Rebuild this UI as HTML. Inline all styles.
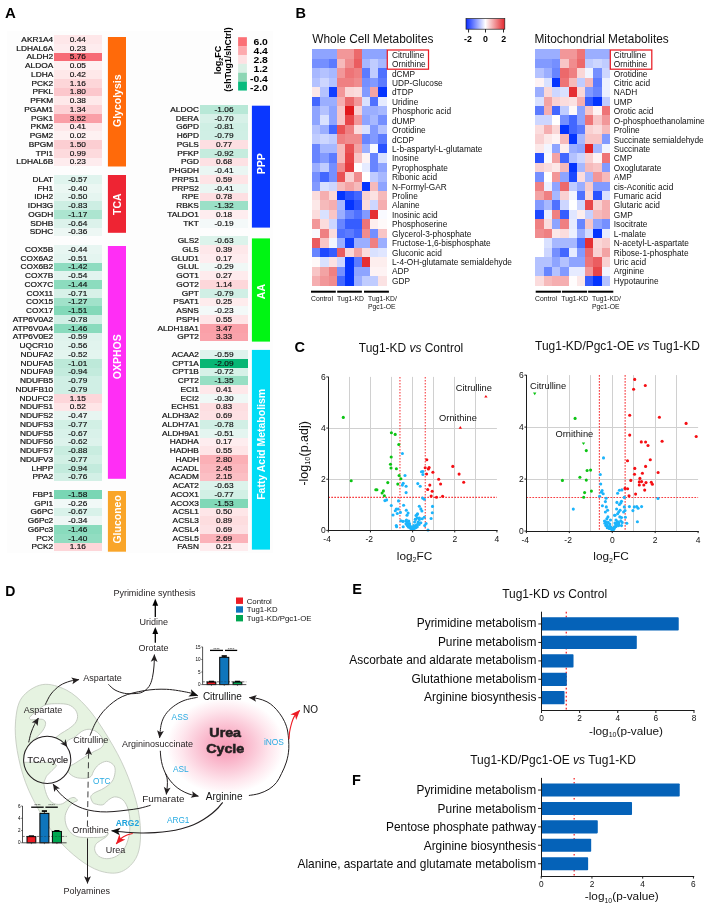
<!DOCTYPE html>
<html lang="en">
<head>
<meta charset="utf-8">
<title>Figure</title>
<style>
html,body{margin:0;padding:0;background:#fff;}
body{width:721px;height:910px;overflow:hidden;font-family:"Liberation Sans", Arial, sans-serif;}
svg{display:block;font-family:"Liberation Sans", Arial, sans-serif;will-change:transform;}
</style>
</head>
<body>
<svg width="721" height="910" viewBox="0 0 721 910">
<rect x="0" y="0" width="721" height="910" fill="#ffffff"/>
<g id="panelA">
<text x="5" y="18.2"  font-size="15" font-weight="bold" fill="#000" >A</text>
<rect x="7" y="31" width="266" height="522" fill="#fdfdfd"/>
<rect shape-rendering="crispEdges" x="54.1" y="35.1" width="47.4" height="8.8" fill="#fee7e9"/>
<text  transform="translate(53.2 41.88) scale(1.17 1)" font-size="7.1" text-anchor="end" fill="#111" stroke="#111" stroke-width="0.2">AKR1A4</text>
<text  transform="translate(77.8 41.88) scale(1.17 1)" font-size="7.1" text-anchor="middle" fill="#111" stroke="#111" stroke-width="0.16">0.44</text>
<rect shape-rendering="crispEdges" x="54.1" y="43.85" width="47.4" height="8.8" fill="#feecee"/>
<text  transform="translate(53.2 50.62) scale(1.17 1)" font-size="7.1" text-anchor="end" fill="#111" stroke="#111" stroke-width="0.2">LDHAL6A</text>
<text  transform="translate(77.8 50.62) scale(1.17 1)" font-size="7.1" text-anchor="middle" fill="#111" stroke="#111" stroke-width="0.16">0.23</text>
<rect shape-rendering="crispEdges" x="54.1" y="52.6" width="47.4" height="8.8" fill="#f76b76"/>
<text  transform="translate(53.2 59.38) scale(1.17 1)" font-size="7.1" text-anchor="end" fill="#111" stroke="#111" stroke-width="0.2">ALDH2</text>
<text  transform="translate(77.8 59.38) scale(1.17 1)" font-size="7.1" text-anchor="middle" fill="#111" stroke="#111" stroke-width="0.16">5.76</text>
<rect shape-rendering="crispEdges" x="54.1" y="61.35" width="47.4" height="8.8" fill="#fef0f1"/>
<text  transform="translate(53.2 68.12) scale(1.17 1)" font-size="7.1" text-anchor="end" fill="#111" stroke="#111" stroke-width="0.2">ALDOA</text>
<text  transform="translate(77.8 68.12) scale(1.17 1)" font-size="7.1" text-anchor="middle" fill="#111" stroke="#111" stroke-width="0.16">0.05</text>
<rect shape-rendering="crispEdges" x="54.1" y="70.1" width="47.4" height="8.8" fill="#fee8e9"/>
<text  transform="translate(53.2 76.88) scale(1.17 1)" font-size="7.1" text-anchor="end" fill="#111" stroke="#111" stroke-width="0.2">LDHA</text>
<text  transform="translate(77.8 76.88) scale(1.17 1)" font-size="7.1" text-anchor="middle" fill="#111" stroke="#111" stroke-width="0.16">0.42</text>
<rect shape-rendering="crispEdges" x="54.1" y="78.85" width="47.4" height="8.8" fill="#fdd6d9"/>
<text  transform="translate(53.2 85.62) scale(1.17 1)" font-size="7.1" text-anchor="end" fill="#111" stroke="#111" stroke-width="0.2">PCK2</text>
<text  transform="translate(77.8 85.62) scale(1.17 1)" font-size="7.1" text-anchor="middle" fill="#111" stroke="#111" stroke-width="0.16">1.16</text>
<rect shape-rendering="crispEdges" x="54.1" y="87.6" width="47.4" height="8.8" fill="#fcc7cc"/>
<text  transform="translate(53.2 94.38) scale(1.17 1)" font-size="7.1" text-anchor="end" fill="#111" stroke="#111" stroke-width="0.2">PFKL</text>
<text  transform="translate(77.8 94.38) scale(1.17 1)" font-size="7.1" text-anchor="middle" fill="#111" stroke="#111" stroke-width="0.16">1.80</text>
<rect shape-rendering="crispEdges" x="54.1" y="96.35" width="47.4" height="8.8" fill="#fee9ea"/>
<text  transform="translate(53.2 103.12) scale(1.17 1)" font-size="7.1" text-anchor="end" fill="#111" stroke="#111" stroke-width="0.2">PFKM</text>
<text  transform="translate(77.8 103.12) scale(1.17 1)" font-size="7.1" text-anchor="middle" fill="#111" stroke="#111" stroke-width="0.16">0.38</text>
<rect shape-rendering="crispEdges" x="54.1" y="105.1" width="47.4" height="8.8" fill="#fdd2d6"/>
<text  transform="translate(53.2 111.88) scale(1.17 1)" font-size="7.1" text-anchor="end" fill="#111" stroke="#111" stroke-width="0.2">PGAM1</text>
<text  transform="translate(77.8 111.88) scale(1.17 1)" font-size="7.1" text-anchor="middle" fill="#111" stroke="#111" stroke-width="0.16">1.34</text>
<rect shape-rendering="crispEdges" x="54.1" y="113.85" width="47.4" height="8.8" fill="#fa9fa7"/>
<text  transform="translate(53.2 120.62) scale(1.17 1)" font-size="7.1" text-anchor="end" fill="#111" stroke="#111" stroke-width="0.2">PGK1</text>
<text  transform="translate(77.8 120.62) scale(1.17 1)" font-size="7.1" text-anchor="middle" fill="#111" stroke="#111" stroke-width="0.16">3.52</text>
<rect shape-rendering="crispEdges" x="54.1" y="122.6" width="47.4" height="8.8" fill="#fee8ea"/>
<text  transform="translate(53.2 129.38) scale(1.17 1)" font-size="7.1" text-anchor="end" fill="#111" stroke="#111" stroke-width="0.2">PKM2</text>
<text  transform="translate(77.8 129.38) scale(1.17 1)" font-size="7.1" text-anchor="middle" fill="#111" stroke="#111" stroke-width="0.16">0.41</text>
<rect shape-rendering="crispEdges" x="54.1" y="131.35" width="47.4" height="8.8" fill="#fef1f2"/>
<text  transform="translate(53.2 138.12) scale(1.17 1)" font-size="7.1" text-anchor="end" fill="#111" stroke="#111" stroke-width="0.2">PGM2</text>
<text  transform="translate(77.8 138.12) scale(1.17 1)" font-size="7.1" text-anchor="middle" fill="#111" stroke="#111" stroke-width="0.16">0.02</text>
<rect shape-rendering="crispEdges" x="54.1" y="140.1" width="47.4" height="8.8" fill="#fcced2"/>
<text  transform="translate(53.2 146.88) scale(1.17 1)" font-size="7.1" text-anchor="end" fill="#111" stroke="#111" stroke-width="0.2">BPGM</text>
<text  transform="translate(77.8 146.88) scale(1.17 1)" font-size="7.1" text-anchor="middle" fill="#111" stroke="#111" stroke-width="0.16">1.50</text>
<rect shape-rendering="crispEdges" x="54.1" y="148.85" width="47.4" height="8.8" fill="#fddadd"/>
<text  transform="translate(53.2 155.62) scale(1.17 1)" font-size="7.1" text-anchor="end" fill="#111" stroke="#111" stroke-width="0.2">TPI1</text>
<text  transform="translate(77.8 155.62) scale(1.17 1)" font-size="7.1" text-anchor="middle" fill="#111" stroke="#111" stroke-width="0.16">0.99</text>
<rect shape-rendering="crispEdges" x="54.1" y="157.6" width="47.4" height="8.8" fill="#feecee"/>
<text  transform="translate(53.2 164.38) scale(1.17 1)" font-size="7.1" text-anchor="end" fill="#111" stroke="#111" stroke-width="0.2">LDHAL6B</text>
<text  transform="translate(77.8 164.38) scale(1.17 1)" font-size="7.1" text-anchor="middle" fill="#111" stroke="#111" stroke-width="0.16">0.23</text>
<rect x="107.9" y="37" width="18.1" height="129.5" fill="#ff6a0a"/>
<text transform="translate(120.65 100.75) rotate(-90)" text-anchor="middle" font-size="10.5" font-weight="bold" fill="#fff">Glycolysis</text>
<rect shape-rendering="crispEdges" x="54.1" y="175.1" width="47.4" height="8.8" fill="#e0f4ee"/>
<text  transform="translate(53.2 181.88) scale(1.17 1)" font-size="7.1" text-anchor="end" fill="#111" stroke="#111" stroke-width="0.2">DLAT</text>
<text  transform="translate(77.8 181.88) scale(1.17 1)" font-size="7.1" text-anchor="middle" fill="#111" stroke="#111" stroke-width="0.16">-0.57</text>
<rect shape-rendering="crispEdges" x="54.1" y="183.85" width="47.4" height="8.8" fill="#ebf7f3"/>
<text  transform="translate(53.2 190.62) scale(1.17 1)" font-size="7.1" text-anchor="end" fill="#111" stroke="#111" stroke-width="0.2">FH1</text>
<text  transform="translate(77.8 190.62) scale(1.17 1)" font-size="7.1" text-anchor="middle" fill="#111" stroke="#111" stroke-width="0.16">-0.40</text>
<rect shape-rendering="crispEdges" x="54.1" y="192.6" width="47.4" height="8.8" fill="#e5f5f0"/>
<text  transform="translate(53.2 199.38) scale(1.17 1)" font-size="7.1" text-anchor="end" fill="#111" stroke="#111" stroke-width="0.2">IDH2</text>
<text  transform="translate(77.8 199.38) scale(1.17 1)" font-size="7.1" text-anchor="middle" fill="#111" stroke="#111" stroke-width="0.16">-0.50</text>
<rect shape-rendering="crispEdges" x="54.1" y="201.35" width="47.4" height="8.8" fill="#cdeee3"/>
<text  transform="translate(53.2 208.12) scale(1.17 1)" font-size="7.1" text-anchor="end" fill="#111" stroke="#111" stroke-width="0.2">IDH3G</text>
<text  transform="translate(77.8 208.12) scale(1.17 1)" font-size="7.1" text-anchor="middle" fill="#111" stroke="#111" stroke-width="0.16">-0.83</text>
<rect shape-rendering="crispEdges" x="54.1" y="210.1" width="47.4" height="8.8" fill="#ace5d0"/>
<text  transform="translate(53.2 216.88) scale(1.17 1)" font-size="7.1" text-anchor="end" fill="#111" stroke="#111" stroke-width="0.2">OGDH</text>
<text  transform="translate(77.8 216.88) scale(1.17 1)" font-size="7.1" text-anchor="middle" fill="#111" stroke="#111" stroke-width="0.16">-1.17</text>
<rect shape-rendering="crispEdges" x="54.1" y="218.85" width="47.4" height="8.8" fill="#dcf2eb"/>
<text  transform="translate(53.2 225.62) scale(1.17 1)" font-size="7.1" text-anchor="end" fill="#111" stroke="#111" stroke-width="0.2">SDHB</text>
<text  transform="translate(77.8 225.62) scale(1.17 1)" font-size="7.1" text-anchor="middle" fill="#111" stroke="#111" stroke-width="0.16">-0.64</text>
<rect shape-rendering="crispEdges" x="54.1" y="227.6" width="47.4" height="8.8" fill="#edf7f4"/>
<text  transform="translate(53.2 234.38) scale(1.17 1)" font-size="7.1" text-anchor="end" fill="#111" stroke="#111" stroke-width="0.2">SDHC</text>
<text  transform="translate(77.8 234.38) scale(1.17 1)" font-size="7.1" text-anchor="middle" fill="#111" stroke="#111" stroke-width="0.16">-0.36</text>
<rect x="107.9" y="175" width="18.1" height="57.8" fill="#ee2433"/>
<text transform="translate(120.65 204.1) rotate(-90)" text-anchor="middle" font-size="10.5" font-weight="bold" fill="#fff">TCA</text>
<rect shape-rendering="crispEdges" x="54.1" y="245.1" width="47.4" height="8.8" fill="#e8f6f2"/>
<text  transform="translate(53.2 251.88) scale(1.17 1)" font-size="7.1" text-anchor="end" fill="#111" stroke="#111" stroke-width="0.2">COX5B</text>
<text  transform="translate(77.8 251.88) scale(1.17 1)" font-size="7.1" text-anchor="middle" fill="#111" stroke="#111" stroke-width="0.16">-0.44</text>
<rect shape-rendering="crispEdges" x="54.1" y="253.85" width="47.4" height="8.8" fill="#e4f5f0"/>
<text  transform="translate(53.2 260.62) scale(1.17 1)" font-size="7.1" text-anchor="end" fill="#111" stroke="#111" stroke-width="0.2">COX6A2</text>
<text  transform="translate(77.8 260.62) scale(1.17 1)" font-size="7.1" text-anchor="middle" fill="#111" stroke="#111" stroke-width="0.16">-0.51</text>
<rect shape-rendering="crispEdges" x="54.1" y="262.6" width="47.4" height="8.8" fill="#8edcc0"/>
<text  transform="translate(53.2 269.38) scale(1.17 1)" font-size="7.1" text-anchor="end" fill="#111" stroke="#111" stroke-width="0.2">COX6B2</text>
<text  transform="translate(77.8 269.38) scale(1.17 1)" font-size="7.1" text-anchor="middle" fill="#111" stroke="#111" stroke-width="0.16">-1.42</text>
<rect shape-rendering="crispEdges" x="54.1" y="271.35" width="47.4" height="8.8" fill="#e2f4ef"/>
<text  transform="translate(53.2 278.12) scale(1.17 1)" font-size="7.1" text-anchor="end" fill="#111" stroke="#111" stroke-width="0.2">COX7B</text>
<text  transform="translate(77.8 278.12) scale(1.17 1)" font-size="7.1" text-anchor="middle" fill="#111" stroke="#111" stroke-width="0.16">-0.54</text>
<rect shape-rendering="crispEdges" x="54.1" y="280.1" width="47.4" height="8.8" fill="#8cdcbe"/>
<text  transform="translate(53.2 286.88) scale(1.17 1)" font-size="7.1" text-anchor="end" fill="#111" stroke="#111" stroke-width="0.2">COX7C</text>
<text  transform="translate(77.8 286.88) scale(1.17 1)" font-size="7.1" text-anchor="middle" fill="#111" stroke="#111" stroke-width="0.16">-1.44</text>
<rect shape-rendering="crispEdges" x="54.1" y="288.85" width="47.4" height="8.8" fill="#d7f1e8"/>
<text  transform="translate(53.2 295.62) scale(1.17 1)" font-size="7.1" text-anchor="end" fill="#111" stroke="#111" stroke-width="0.2">COX11</text>
<text  transform="translate(77.8 295.62) scale(1.17 1)" font-size="7.1" text-anchor="middle" fill="#111" stroke="#111" stroke-width="0.16">-0.71</text>
<rect shape-rendering="crispEdges" x="54.1" y="297.6" width="47.4" height="8.8" fill="#a1e2ca"/>
<text  transform="translate(53.2 304.38) scale(1.17 1)" font-size="7.1" text-anchor="end" fill="#111" stroke="#111" stroke-width="0.2">COX15</text>
<text  transform="translate(77.8 304.38) scale(1.17 1)" font-size="7.1" text-anchor="middle" fill="#111" stroke="#111" stroke-width="0.16">-1.27</text>
<rect shape-rendering="crispEdges" x="54.1" y="306.35" width="47.4" height="8.8" fill="#83d9b9"/>
<text  transform="translate(53.2 313.12) scale(1.17 1)" font-size="7.1" text-anchor="end" fill="#111" stroke="#111" stroke-width="0.2">COX17</text>
<text  transform="translate(77.8 313.12) scale(1.17 1)" font-size="7.1" text-anchor="middle" fill="#111" stroke="#111" stroke-width="0.16">-1.51</text>
<rect shape-rendering="crispEdges" x="54.1" y="315.1" width="47.4" height="8.8" fill="#d1efe5"/>
<text  transform="translate(53.2 321.88) scale(1.17 1)" font-size="7.1" text-anchor="end" fill="#111" stroke="#111" stroke-width="0.2">ATP6V0A2</text>
<text  transform="translate(77.8 321.88) scale(1.17 1)" font-size="7.1" text-anchor="middle" fill="#111" stroke="#111" stroke-width="0.16">-0.78</text>
<rect shape-rendering="crispEdges" x="54.1" y="323.85" width="47.4" height="8.8" fill="#89dbbd"/>
<text  transform="translate(53.2 330.62) scale(1.17 1)" font-size="7.1" text-anchor="end" fill="#111" stroke="#111" stroke-width="0.2">ATP6V0A4</text>
<text  transform="translate(77.8 330.62) scale(1.17 1)" font-size="7.1" text-anchor="middle" fill="#111" stroke="#111" stroke-width="0.16">-1.46</text>
<rect shape-rendering="crispEdges" x="54.1" y="332.6" width="47.4" height="8.8" fill="#dff3ed"/>
<text  transform="translate(53.2 339.38) scale(1.17 1)" font-size="7.1" text-anchor="end" fill="#111" stroke="#111" stroke-width="0.2">ATP6V0E2</text>
<text  transform="translate(77.8 339.38) scale(1.17 1)" font-size="7.1" text-anchor="middle" fill="#111" stroke="#111" stroke-width="0.16">-0.59</text>
<rect shape-rendering="crispEdges" x="54.1" y="341.35" width="47.4" height="8.8" fill="#e1f4ee"/>
<text  transform="translate(53.2 348.12) scale(1.17 1)" font-size="7.1" text-anchor="end" fill="#111" stroke="#111" stroke-width="0.2">UQCR10</text>
<text  transform="translate(77.8 348.12) scale(1.17 1)" font-size="7.1" text-anchor="middle" fill="#111" stroke="#111" stroke-width="0.16">-0.56</text>
<rect shape-rendering="crispEdges" x="54.1" y="350.1" width="47.4" height="8.8" fill="#e4f5ef"/>
<text  transform="translate(53.2 356.88) scale(1.17 1)" font-size="7.1" text-anchor="end" fill="#111" stroke="#111" stroke-width="0.2">NDUFA2</text>
<text  transform="translate(77.8 356.88) scale(1.17 1)" font-size="7.1" text-anchor="middle" fill="#111" stroke="#111" stroke-width="0.16">-0.52</text>
<rect shape-rendering="crispEdges" x="54.1" y="358.85" width="47.4" height="8.8" fill="#bde9d9"/>
<text  transform="translate(53.2 365.62) scale(1.17 1)" font-size="7.1" text-anchor="end" fill="#111" stroke="#111" stroke-width="0.2">NDUFA5</text>
<text  transform="translate(77.8 365.62) scale(1.17 1)" font-size="7.1" text-anchor="middle" fill="#111" stroke="#111" stroke-width="0.16">-1.01</text>
<rect shape-rendering="crispEdges" x="54.1" y="367.6" width="47.4" height="8.8" fill="#c3ebdd"/>
<text  transform="translate(53.2 374.38) scale(1.17 1)" font-size="7.1" text-anchor="end" fill="#111" stroke="#111" stroke-width="0.2">NDUFA9</text>
<text  transform="translate(77.8 374.38) scale(1.17 1)" font-size="7.1" text-anchor="middle" fill="#111" stroke="#111" stroke-width="0.16">-0.94</text>
<rect shape-rendering="crispEdges" x="54.1" y="376.35" width="47.4" height="8.8" fill="#d0efe5"/>
<text  transform="translate(53.2 383.12) scale(1.17 1)" font-size="7.1" text-anchor="end" fill="#111" stroke="#111" stroke-width="0.2">NDUFB5</text>
<text  transform="translate(77.8 383.12) scale(1.17 1)" font-size="7.1" text-anchor="middle" fill="#111" stroke="#111" stroke-width="0.16">-0.79</text>
<rect shape-rendering="crispEdges" x="54.1" y="385.1" width="47.4" height="8.8" fill="#d0efe5"/>
<text  transform="translate(53.2 391.88) scale(1.17 1)" font-size="7.1" text-anchor="end" fill="#111" stroke="#111" stroke-width="0.2">NDUFB10</text>
<text  transform="translate(77.8 391.88) scale(1.17 1)" font-size="7.1" text-anchor="middle" fill="#111" stroke="#111" stroke-width="0.16">-0.79</text>
<rect shape-rendering="crispEdges" x="54.1" y="393.85" width="47.4" height="8.8" fill="#fdd6da"/>
<text  transform="translate(53.2 400.62) scale(1.17 1)" font-size="7.1" text-anchor="end" fill="#111" stroke="#111" stroke-width="0.2">NDUFC2</text>
<text  transform="translate(77.8 400.62) scale(1.17 1)" font-size="7.1" text-anchor="middle" fill="#111" stroke="#111" stroke-width="0.16">1.15</text>
<rect shape-rendering="crispEdges" x="54.1" y="402.6" width="47.4" height="8.8" fill="#fee5e7"/>
<text  transform="translate(53.2 409.38) scale(1.17 1)" font-size="7.1" text-anchor="end" fill="#111" stroke="#111" stroke-width="0.2">NDUFS1</text>
<text  transform="translate(77.8 409.38) scale(1.17 1)" font-size="7.1" text-anchor="middle" fill="#111" stroke="#111" stroke-width="0.16">0.52</text>
<rect shape-rendering="crispEdges" x="54.1" y="411.35" width="47.4" height="8.8" fill="#e7f5f1"/>
<text  transform="translate(53.2 418.12) scale(1.17 1)" font-size="7.1" text-anchor="end" fill="#111" stroke="#111" stroke-width="0.2">NDUFS2</text>
<text  transform="translate(77.8 418.12) scale(1.17 1)" font-size="7.1" text-anchor="middle" fill="#111" stroke="#111" stroke-width="0.16">-0.47</text>
<rect shape-rendering="crispEdges" x="54.1" y="420.1" width="47.4" height="8.8" fill="#d2f0e5"/>
<text  transform="translate(53.2 426.88) scale(1.17 1)" font-size="7.1" text-anchor="end" fill="#111" stroke="#111" stroke-width="0.2">NDUFS3</text>
<text  transform="translate(77.8 426.88) scale(1.17 1)" font-size="7.1" text-anchor="middle" fill="#111" stroke="#111" stroke-width="0.16">-0.77</text>
<rect shape-rendering="crispEdges" x="54.1" y="428.85" width="47.4" height="8.8" fill="#d9f2ea"/>
<text  transform="translate(53.2 435.62) scale(1.17 1)" font-size="7.1" text-anchor="end" fill="#111" stroke="#111" stroke-width="0.2">NDUFS5</text>
<text  transform="translate(77.8 435.62) scale(1.17 1)" font-size="7.1" text-anchor="middle" fill="#111" stroke="#111" stroke-width="0.16">-0.67</text>
<rect shape-rendering="crispEdges" x="54.1" y="437.6" width="47.4" height="8.8" fill="#ddf3ec"/>
<text  transform="translate(53.2 444.38) scale(1.17 1)" font-size="7.1" text-anchor="end" fill="#111" stroke="#111" stroke-width="0.2">NDUFS6</text>
<text  transform="translate(77.8 444.38) scale(1.17 1)" font-size="7.1" text-anchor="middle" fill="#111" stroke="#111" stroke-width="0.16">-0.62</text>
<rect shape-rendering="crispEdges" x="54.1" y="446.35" width="47.4" height="8.8" fill="#c9ede0"/>
<text  transform="translate(53.2 453.12) scale(1.17 1)" font-size="7.1" text-anchor="end" fill="#111" stroke="#111" stroke-width="0.2">NDUFS7</text>
<text  transform="translate(77.8 453.12) scale(1.17 1)" font-size="7.1" text-anchor="middle" fill="#111" stroke="#111" stroke-width="0.16">-0.88</text>
<rect shape-rendering="crispEdges" x="54.1" y="455.1" width="47.4" height="8.8" fill="#d2f0e5"/>
<text  transform="translate(53.2 461.88) scale(1.17 1)" font-size="7.1" text-anchor="end" fill="#111" stroke="#111" stroke-width="0.2">NDUFV3</text>
<text  transform="translate(77.8 461.88) scale(1.17 1)" font-size="7.1" text-anchor="middle" fill="#111" stroke="#111" stroke-width="0.16">-0.77</text>
<rect shape-rendering="crispEdges" x="54.1" y="463.85" width="47.4" height="8.8" fill="#c3ebdd"/>
<text  transform="translate(53.2 470.62) scale(1.17 1)" font-size="7.1" text-anchor="end" fill="#111" stroke="#111" stroke-width="0.2">LHPP</text>
<text  transform="translate(77.8 470.62) scale(1.17 1)" font-size="7.1" text-anchor="middle" fill="#111" stroke="#111" stroke-width="0.16">-0.94</text>
<rect shape-rendering="crispEdges" x="54.1" y="472.6" width="47.4" height="8.8" fill="#d3f0e6"/>
<text  transform="translate(53.2 479.38) scale(1.17 1)" font-size="7.1" text-anchor="end" fill="#111" stroke="#111" stroke-width="0.2">PPA2</text>
<text  transform="translate(77.8 479.38) scale(1.17 1)" font-size="7.1" text-anchor="middle" fill="#111" stroke="#111" stroke-width="0.16">-0.76</text>
<rect x="107.9" y="246" width="18.1" height="232.8" fill="#ff2ef5"/>
<text transform="translate(120.65 356.7) rotate(-90)" text-anchor="middle" font-size="10.5" font-weight="bold" fill="#fff">OXPHOS</text>
<rect shape-rendering="crispEdges" x="54.1" y="490.1" width="47.4" height="8.8" fill="#79d6b4"/>
<text  transform="translate(53.2 496.88) scale(1.17 1)" font-size="7.1" text-anchor="end" fill="#111" stroke="#111" stroke-width="0.2">FBP1</text>
<text  transform="translate(77.8 496.88) scale(1.17 1)" font-size="7.1" text-anchor="middle" fill="#111" stroke="#111" stroke-width="0.16">-1.58</text>
<rect shape-rendering="crispEdges" x="54.1" y="498.85" width="47.4" height="8.8" fill="#f1f9f7"/>
<text  transform="translate(53.2 505.62) scale(1.17 1)" font-size="7.1" text-anchor="end" fill="#111" stroke="#111" stroke-width="0.2">GPI1</text>
<text  transform="translate(77.8 505.62) scale(1.17 1)" font-size="7.1" text-anchor="middle" fill="#111" stroke="#111" stroke-width="0.16">-0.26</text>
<rect shape-rendering="crispEdges" x="54.1" y="507.6" width="47.4" height="8.8" fill="#d9f2ea"/>
<text  transform="translate(53.2 514.38) scale(1.17 1)" font-size="7.1" text-anchor="end" fill="#111" stroke="#111" stroke-width="0.2">G6PC</text>
<text  transform="translate(77.8 514.38) scale(1.17 1)" font-size="7.1" text-anchor="middle" fill="#111" stroke="#111" stroke-width="0.16">-0.67</text>
<rect shape-rendering="crispEdges" x="54.1" y="516.35" width="47.4" height="8.8" fill="#eef7f5"/>
<text  transform="translate(53.2 523.12) scale(1.17 1)" font-size="7.1" text-anchor="end" fill="#111" stroke="#111" stroke-width="0.2">G6Pc2</text>
<text  transform="translate(77.8 523.12) scale(1.17 1)" font-size="7.1" text-anchor="middle" fill="#111" stroke="#111" stroke-width="0.16">-0.34</text>
<rect shape-rendering="crispEdges" x="54.1" y="525.1" width="47.4" height="8.8" fill="#89dbbd"/>
<text  transform="translate(53.2 531.88) scale(1.17 1)" font-size="7.1" text-anchor="end" fill="#111" stroke="#111" stroke-width="0.2">G6Pc3</text>
<text  transform="translate(77.8 531.88) scale(1.17 1)" font-size="7.1" text-anchor="middle" fill="#111" stroke="#111" stroke-width="0.16">-1.46</text>
<rect shape-rendering="crispEdges" x="54.1" y="533.85" width="47.4" height="8.8" fill="#91ddc1"/>
<text  transform="translate(53.2 540.62) scale(1.17 1)" font-size="7.1" text-anchor="end" fill="#111" stroke="#111" stroke-width="0.2">PCX</text>
<text  transform="translate(77.8 540.62) scale(1.17 1)" font-size="7.1" text-anchor="middle" fill="#111" stroke="#111" stroke-width="0.16">-1.40</text>
<rect shape-rendering="crispEdges" x="54.1" y="542.6" width="47.4" height="8.8" fill="#fdd6d9"/>
<text  transform="translate(53.2 549.38) scale(1.17 1)" font-size="7.1" text-anchor="end" fill="#111" stroke="#111" stroke-width="0.2">PCK2</text>
<text  transform="translate(77.8 549.38) scale(1.17 1)" font-size="7.1" text-anchor="middle" fill="#111" stroke="#111" stroke-width="0.16">1.16</text>
<rect x="107.9" y="491" width="18.1" height="60.7" fill="#f9a529"/>
<text transform="translate(120.65 519.35) rotate(-90)" text-anchor="middle" font-size="10.5" font-weight="bold" fill="#fff">Gluconeo</text>
<rect shape-rendering="crispEdges" x="200.3" y="105.1" width="47.5" height="8.8" fill="#b8e8d7"/>
<text  transform="translate(198.9 111.88) scale(1.17 1)" font-size="7.1" text-anchor="end" fill="#111" stroke="#111" stroke-width="0.2">ALDOC</text>
<text  transform="translate(224.05 111.88) scale(1.17 1)" font-size="7.1" text-anchor="middle" fill="#111" stroke="#111" stroke-width="0.16">-1.06</text>
<rect shape-rendering="crispEdges" x="200.3" y="113.85" width="47.5" height="8.8" fill="#d7f1e8"/>
<text  transform="translate(198.9 120.62) scale(1.17 1)" font-size="7.1" text-anchor="end" fill="#111" stroke="#111" stroke-width="0.2">DERA</text>
<text  transform="translate(224.05 120.62) scale(1.17 1)" font-size="7.1" text-anchor="middle" fill="#111" stroke="#111" stroke-width="0.16">-0.70</text>
<rect shape-rendering="crispEdges" x="200.3" y="122.6" width="47.5" height="8.8" fill="#cfefe4"/>
<text  transform="translate(198.9 129.38) scale(1.17 1)" font-size="7.1" text-anchor="end" fill="#111" stroke="#111" stroke-width="0.2">G6PD</text>
<text  transform="translate(224.05 129.38) scale(1.17 1)" font-size="7.1" text-anchor="middle" fill="#111" stroke="#111" stroke-width="0.16">-0.81</text>
<rect shape-rendering="crispEdges" x="200.3" y="131.35" width="47.5" height="8.8" fill="#d0efe5"/>
<text  transform="translate(198.9 138.12) scale(1.17 1)" font-size="7.1" text-anchor="end" fill="#111" stroke="#111" stroke-width="0.2">H6PD</text>
<text  transform="translate(224.05 138.12) scale(1.17 1)" font-size="7.1" text-anchor="middle" fill="#111" stroke="#111" stroke-width="0.16">-0.79</text>
<rect shape-rendering="crispEdges" x="200.3" y="140.1" width="47.5" height="8.8" fill="#fddfe2"/>
<text  transform="translate(198.9 146.88) scale(1.17 1)" font-size="7.1" text-anchor="end" fill="#111" stroke="#111" stroke-width="0.2">PGLS</text>
<text  transform="translate(224.05 146.88) scale(1.17 1)" font-size="7.1" text-anchor="middle" fill="#111" stroke="#111" stroke-width="0.16">0.77</text>
<rect shape-rendering="crispEdges" x="200.3" y="148.85" width="47.5" height="8.8" fill="#c5ecde"/>
<text  transform="translate(198.9 155.62) scale(1.17 1)" font-size="7.1" text-anchor="end" fill="#111" stroke="#111" stroke-width="0.2">PFKP</text>
<text  transform="translate(224.05 155.62) scale(1.17 1)" font-size="7.1" text-anchor="middle" fill="#111" stroke="#111" stroke-width="0.16">-0.92</text>
<rect shape-rendering="crispEdges" x="200.3" y="157.6" width="47.5" height="8.8" fill="#fde1e4"/>
<text  transform="translate(198.9 164.38) scale(1.17 1)" font-size="7.1" text-anchor="end" fill="#111" stroke="#111" stroke-width="0.2">PGD</text>
<text  transform="translate(224.05 164.38) scale(1.17 1)" font-size="7.1" text-anchor="middle" fill="#111" stroke="#111" stroke-width="0.16">0.68</text>
<rect shape-rendering="crispEdges" x="200.3" y="166.35" width="47.5" height="8.8" fill="#eaf6f3"/>
<text  transform="translate(198.9 173.12) scale(1.17 1)" font-size="7.1" text-anchor="end" fill="#111" stroke="#111" stroke-width="0.2">PHGDH</text>
<text  transform="translate(224.05 173.12) scale(1.17 1)" font-size="7.1" text-anchor="middle" fill="#111" stroke="#111" stroke-width="0.16">-0.41</text>
<rect shape-rendering="crispEdges" x="200.3" y="175.1" width="47.5" height="8.8" fill="#fee4e6"/>
<text  transform="translate(198.9 181.88) scale(1.17 1)" font-size="7.1" text-anchor="end" fill="#111" stroke="#111" stroke-width="0.2">PRPS1</text>
<text  transform="translate(224.05 181.88) scale(1.17 1)" font-size="7.1" text-anchor="middle" fill="#111" stroke="#111" stroke-width="0.16">0.59</text>
<rect shape-rendering="crispEdges" x="200.3" y="183.85" width="47.5" height="8.8" fill="#eaf6f3"/>
<text  transform="translate(198.9 190.62) scale(1.17 1)" font-size="7.1" text-anchor="end" fill="#111" stroke="#111" stroke-width="0.2">PRPS2</text>
<text  transform="translate(224.05 190.62) scale(1.17 1)" font-size="7.1" text-anchor="middle" fill="#111" stroke="#111" stroke-width="0.16">-0.41</text>
<rect shape-rendering="crispEdges" x="200.3" y="192.6" width="47.5" height="8.8" fill="#fddfe2"/>
<text  transform="translate(198.9 199.38) scale(1.17 1)" font-size="7.1" text-anchor="end" fill="#111" stroke="#111" stroke-width="0.2">RPE</text>
<text  transform="translate(224.05 199.38) scale(1.17 1)" font-size="7.1" text-anchor="middle" fill="#111" stroke="#111" stroke-width="0.16">0.78</text>
<rect shape-rendering="crispEdges" x="200.3" y="201.35" width="47.5" height="8.8" fill="#9be0c7"/>
<text  transform="translate(198.9 208.12) scale(1.17 1)" font-size="7.1" text-anchor="end" fill="#111" stroke="#111" stroke-width="0.2">RBKS</text>
<text  transform="translate(224.05 208.12) scale(1.17 1)" font-size="7.1" text-anchor="middle" fill="#111" stroke="#111" stroke-width="0.16">-1.32</text>
<rect shape-rendering="crispEdges" x="200.3" y="210.1" width="47.5" height="8.8" fill="#feedef"/>
<text  transform="translate(198.9 216.88) scale(1.17 1)" font-size="7.1" text-anchor="end" fill="#111" stroke="#111" stroke-width="0.2">TALDO1</text>
<text  transform="translate(224.05 216.88) scale(1.17 1)" font-size="7.1" text-anchor="middle" fill="#111" stroke="#111" stroke-width="0.16">0.18</text>
<rect shape-rendering="crispEdges" x="200.3" y="218.85" width="47.5" height="8.8" fill="#f4f9f9"/>
<text  transform="translate(198.9 225.62) scale(1.17 1)" font-size="7.1" text-anchor="end" fill="#111" stroke="#111" stroke-width="0.2">TKT</text>
<text  transform="translate(224.05 225.62) scale(1.17 1)" font-size="7.1" text-anchor="middle" fill="#111" stroke="#111" stroke-width="0.16">-0.19</text>
<rect x="251.9" y="105.7" width="18.1" height="121.9" fill="#0a37ff"/>
<text transform="translate(264.65 163.65) rotate(-90)" text-anchor="middle" font-size="10.5" font-weight="bold" fill="#fff">PPP</text>
<rect shape-rendering="crispEdges" x="200.3" y="236.35" width="47.5" height="8.8" fill="#dcf3eb"/>
<text  transform="translate(198.9 243.12) scale(1.17 1)" font-size="7.1" text-anchor="end" fill="#111" stroke="#111" stroke-width="0.2">GLS2</text>
<text  transform="translate(224.05 243.12) scale(1.17 1)" font-size="7.1" text-anchor="middle" fill="#111" stroke="#111" stroke-width="0.16">-0.63</text>
<rect shape-rendering="crispEdges" x="200.3" y="245.1" width="47.5" height="8.8" fill="#fee8ea"/>
<text  transform="translate(198.9 251.88) scale(1.17 1)" font-size="7.1" text-anchor="end" fill="#111" stroke="#111" stroke-width="0.2">GLS</text>
<text  transform="translate(224.05 251.88) scale(1.17 1)" font-size="7.1" text-anchor="middle" fill="#111" stroke="#111" stroke-width="0.16">0.39</text>
<rect shape-rendering="crispEdges" x="200.3" y="253.85" width="47.5" height="8.8" fill="#feedef"/>
<text  transform="translate(198.9 260.62) scale(1.17 1)" font-size="7.1" text-anchor="end" fill="#111" stroke="#111" stroke-width="0.2">GLUD1</text>
<text  transform="translate(224.05 260.62) scale(1.17 1)" font-size="7.1" text-anchor="middle" fill="#111" stroke="#111" stroke-width="0.16">0.17</text>
<rect shape-rendering="crispEdges" x="200.3" y="262.6" width="47.5" height="8.8" fill="#f0f8f6"/>
<text  transform="translate(198.9 269.38) scale(1.17 1)" font-size="7.1" text-anchor="end" fill="#111" stroke="#111" stroke-width="0.2">GLUL</text>
<text  transform="translate(224.05 269.38) scale(1.17 1)" font-size="7.1" text-anchor="middle" fill="#111" stroke="#111" stroke-width="0.16">-0.29</text>
<rect shape-rendering="crispEdges" x="200.3" y="271.35" width="47.5" height="8.8" fill="#feebed"/>
<text  transform="translate(198.9 278.12) scale(1.17 1)" font-size="7.1" text-anchor="end" fill="#111" stroke="#111" stroke-width="0.2">GOT1</text>
<text  transform="translate(224.05 278.12) scale(1.17 1)" font-size="7.1" text-anchor="middle" fill="#111" stroke="#111" stroke-width="0.16">0.27</text>
<rect shape-rendering="crispEdges" x="200.3" y="280.1" width="47.5" height="8.8" fill="#fdd7da"/>
<text  transform="translate(198.9 286.88) scale(1.17 1)" font-size="7.1" text-anchor="end" fill="#111" stroke="#111" stroke-width="0.2">GOT2</text>
<text  transform="translate(224.05 286.88) scale(1.17 1)" font-size="7.1" text-anchor="middle" fill="#111" stroke="#111" stroke-width="0.16">1.14</text>
<rect shape-rendering="crispEdges" x="200.3" y="288.85" width="47.5" height="8.8" fill="#d0efe5"/>
<text  transform="translate(198.9 295.62) scale(1.17 1)" font-size="7.1" text-anchor="end" fill="#111" stroke="#111" stroke-width="0.2">GPT</text>
<text  transform="translate(224.05 295.62) scale(1.17 1)" font-size="7.1" text-anchor="middle" fill="#111" stroke="#111" stroke-width="0.16">-0.79</text>
<rect shape-rendering="crispEdges" x="200.3" y="297.6" width="47.5" height="8.8" fill="#feeced"/>
<text  transform="translate(198.9 304.38) scale(1.17 1)" font-size="7.1" text-anchor="end" fill="#111" stroke="#111" stroke-width="0.2">PSAT1</text>
<text  transform="translate(224.05 304.38) scale(1.17 1)" font-size="7.1" text-anchor="middle" fill="#111" stroke="#111" stroke-width="0.16">0.25</text>
<rect shape-rendering="crispEdges" x="200.3" y="306.35" width="47.5" height="8.8" fill="#f3f9f8"/>
<text  transform="translate(198.9 313.12) scale(1.17 1)" font-size="7.1" text-anchor="end" fill="#111" stroke="#111" stroke-width="0.2">ASNS</text>
<text  transform="translate(224.05 313.12) scale(1.17 1)" font-size="7.1" text-anchor="middle" fill="#111" stroke="#111" stroke-width="0.16">-0.23</text>
<rect shape-rendering="crispEdges" x="200.3" y="315.1" width="47.5" height="8.8" fill="#fee5e7"/>
<text  transform="translate(198.9 321.88) scale(1.17 1)" font-size="7.1" text-anchor="end" fill="#111" stroke="#111" stroke-width="0.2">PSPH</text>
<text  transform="translate(224.05 321.88) scale(1.17 1)" font-size="7.1" text-anchor="middle" fill="#111" stroke="#111" stroke-width="0.16">0.55</text>
<rect shape-rendering="crispEdges" x="200.3" y="323.85" width="47.5" height="8.8" fill="#faa0a8"/>
<text  transform="translate(198.9 330.62) scale(1.17 1)" font-size="7.1" text-anchor="end" fill="#111" stroke="#111" stroke-width="0.2">ALDH18A1</text>
<text  transform="translate(224.05 330.62) scale(1.17 1)" font-size="7.1" text-anchor="middle" fill="#111" stroke="#111" stroke-width="0.16">3.47</text>
<rect shape-rendering="crispEdges" x="200.3" y="332.6" width="47.5" height="8.8" fill="#faa3ab"/>
<text  transform="translate(198.9 339.38) scale(1.17 1)" font-size="7.1" text-anchor="end" fill="#111" stroke="#111" stroke-width="0.2">GPT2</text>
<text  transform="translate(224.05 339.38) scale(1.17 1)" font-size="7.1" text-anchor="middle" fill="#111" stroke="#111" stroke-width="0.16">3.33</text>
<rect x="251.9" y="238.4" width="18.1" height="103.2" fill="#00f513"/>
<text transform="translate(264.65 291.6) rotate(-90)" text-anchor="middle" font-size="10.5" font-weight="bold" fill="#fff">AA</text>
<rect shape-rendering="crispEdges" x="200.3" y="350.1" width="47.5" height="8.8" fill="#dff3ed"/>
<text  transform="translate(198.9 356.88) scale(1.17 1)" font-size="7.1" text-anchor="end" fill="#111" stroke="#111" stroke-width="0.2">ACAA2</text>
<text  transform="translate(224.05 356.88) scale(1.17 1)" font-size="7.1" text-anchor="middle" fill="#111" stroke="#111" stroke-width="0.16">-0.59</text>
<rect shape-rendering="crispEdges" x="200.3" y="358.85" width="47.5" height="8.8" fill="#08b674"/>
<text  transform="translate(198.9 365.62) scale(1.17 1)" font-size="7.1" text-anchor="end" fill="#111" stroke="#111" stroke-width="0.2">CPT1A</text>
<text  transform="translate(224.05 365.62) scale(1.17 1)" font-size="7.1" text-anchor="middle" fill="#111" stroke="#111" stroke-width="0.16">-2.09</text>
<rect shape-rendering="crispEdges" x="200.3" y="367.6" width="47.5" height="8.8" fill="#d6f1e8"/>
<text  transform="translate(198.9 374.38) scale(1.17 1)" font-size="7.1" text-anchor="end" fill="#111" stroke="#111" stroke-width="0.2">CPT1B</text>
<text  transform="translate(224.05 374.38) scale(1.17 1)" font-size="7.1" text-anchor="middle" fill="#111" stroke="#111" stroke-width="0.16">-0.72</text>
<rect shape-rendering="crispEdges" x="200.3" y="376.35" width="47.5" height="8.8" fill="#97dfc4"/>
<text  transform="translate(198.9 383.12) scale(1.17 1)" font-size="7.1" text-anchor="end" fill="#111" stroke="#111" stroke-width="0.2">CPT2</text>
<text  transform="translate(224.05 383.12) scale(1.17 1)" font-size="7.1" text-anchor="middle" fill="#111" stroke="#111" stroke-width="0.16">-1.35</text>
<rect shape-rendering="crispEdges" x="200.3" y="385.1" width="47.5" height="8.8" fill="#fee8ea"/>
<text  transform="translate(198.9 391.88) scale(1.17 1)" font-size="7.1" text-anchor="end" fill="#111" stroke="#111" stroke-width="0.2">ECI1</text>
<text  transform="translate(224.05 391.88) scale(1.17 1)" font-size="7.1" text-anchor="middle" fill="#111" stroke="#111" stroke-width="0.16">0.41</text>
<rect shape-rendering="crispEdges" x="200.3" y="393.85" width="47.5" height="8.8" fill="#eff8f6"/>
<text  transform="translate(198.9 400.62) scale(1.17 1)" font-size="7.1" text-anchor="end" fill="#111" stroke="#111" stroke-width="0.2">ECI2</text>
<text  transform="translate(224.05 400.62) scale(1.17 1)" font-size="7.1" text-anchor="middle" fill="#111" stroke="#111" stroke-width="0.16">-0.30</text>
<rect shape-rendering="crispEdges" x="200.3" y="402.6" width="47.5" height="8.8" fill="#fddee1"/>
<text  transform="translate(198.9 409.38) scale(1.17 1)" font-size="7.1" text-anchor="end" fill="#111" stroke="#111" stroke-width="0.2">ECHS1</text>
<text  transform="translate(224.05 409.38) scale(1.17 1)" font-size="7.1" text-anchor="middle" fill="#111" stroke="#111" stroke-width="0.16">0.83</text>
<rect shape-rendering="crispEdges" x="200.3" y="411.35" width="47.5" height="8.8" fill="#fde1e4"/>
<text  transform="translate(198.9 418.12) scale(1.17 1)" font-size="7.1" text-anchor="end" fill="#111" stroke="#111" stroke-width="0.2">ALDH3A2</text>
<text  transform="translate(224.05 418.12) scale(1.17 1)" font-size="7.1" text-anchor="middle" fill="#111" stroke="#111" stroke-width="0.16">0.69</text>
<rect shape-rendering="crispEdges" x="200.3" y="420.1" width="47.5" height="8.8" fill="#d1efe5"/>
<text  transform="translate(198.9 426.88) scale(1.17 1)" font-size="7.1" text-anchor="end" fill="#111" stroke="#111" stroke-width="0.2">ALDH7A1</text>
<text  transform="translate(224.05 426.88) scale(1.17 1)" font-size="7.1" text-anchor="middle" fill="#111" stroke="#111" stroke-width="0.16">-0.78</text>
<rect shape-rendering="crispEdges" x="200.3" y="428.85" width="47.5" height="8.8" fill="#e4f5f0"/>
<text  transform="translate(198.9 435.62) scale(1.17 1)" font-size="7.1" text-anchor="end" fill="#111" stroke="#111" stroke-width="0.2">ALDH9A1</text>
<text  transform="translate(224.05 435.62) scale(1.17 1)" font-size="7.1" text-anchor="middle" fill="#111" stroke="#111" stroke-width="0.16">-0.51</text>
<rect shape-rendering="crispEdges" x="200.3" y="437.6" width="47.5" height="8.8" fill="#feedef"/>
<text  transform="translate(198.9 444.38) scale(1.17 1)" font-size="7.1" text-anchor="end" fill="#111" stroke="#111" stroke-width="0.2">HADHA</text>
<text  transform="translate(224.05 444.38) scale(1.17 1)" font-size="7.1" text-anchor="middle" fill="#111" stroke="#111" stroke-width="0.16">0.17</text>
<rect shape-rendering="crispEdges" x="200.3" y="446.35" width="47.5" height="8.8" fill="#fee5e7"/>
<text  transform="translate(198.9 453.12) scale(1.17 1)" font-size="7.1" text-anchor="end" fill="#111" stroke="#111" stroke-width="0.2">HADHB</text>
<text  transform="translate(224.05 453.12) scale(1.17 1)" font-size="7.1" text-anchor="middle" fill="#111" stroke="#111" stroke-width="0.16">0.55</text>
<rect shape-rendering="crispEdges" x="200.3" y="455.1" width="47.5" height="8.8" fill="#fbb0b6"/>
<text  transform="translate(198.9 461.88) scale(1.17 1)" font-size="7.1" text-anchor="end" fill="#111" stroke="#111" stroke-width="0.2">HADH</text>
<text  transform="translate(224.05 461.88) scale(1.17 1)" font-size="7.1" text-anchor="middle" fill="#111" stroke="#111" stroke-width="0.16">2.80</text>
<rect shape-rendering="crispEdges" x="200.3" y="463.85" width="47.5" height="8.8" fill="#fbb8be"/>
<text  transform="translate(198.9 470.62) scale(1.17 1)" font-size="7.1" text-anchor="end" fill="#111" stroke="#111" stroke-width="0.2">ACADL</text>
<text  transform="translate(224.05 470.62) scale(1.17 1)" font-size="7.1" text-anchor="middle" fill="#111" stroke="#111" stroke-width="0.16">2.45</text>
<rect shape-rendering="crispEdges" x="200.3" y="472.6" width="47.5" height="8.8" fill="#fcbfc4"/>
<text  transform="translate(198.9 479.38) scale(1.17 1)" font-size="7.1" text-anchor="end" fill="#111" stroke="#111" stroke-width="0.2">ACADM</text>
<text  transform="translate(224.05 479.38) scale(1.17 1)" font-size="7.1" text-anchor="middle" fill="#111" stroke="#111" stroke-width="0.16">2.15</text>
<rect shape-rendering="crispEdges" x="200.3" y="481.35" width="47.5" height="8.8" fill="#dcf3eb"/>
<text  transform="translate(198.9 488.12) scale(1.17 1)" font-size="7.1" text-anchor="end" fill="#111" stroke="#111" stroke-width="0.2">ACAT2</text>
<text  transform="translate(224.05 488.12) scale(1.17 1)" font-size="7.1" text-anchor="middle" fill="#111" stroke="#111" stroke-width="0.16">-0.63</text>
<rect shape-rendering="crispEdges" x="200.3" y="490.1" width="47.5" height="8.8" fill="#d2f0e5"/>
<text  transform="translate(198.9 496.88) scale(1.17 1)" font-size="7.1" text-anchor="end" fill="#111" stroke="#111" stroke-width="0.2">ACOX1</text>
<text  transform="translate(224.05 496.88) scale(1.17 1)" font-size="7.1" text-anchor="middle" fill="#111" stroke="#111" stroke-width="0.16">-0.77</text>
<rect shape-rendering="crispEdges" x="200.3" y="498.85" width="47.5" height="8.8" fill="#80d8b7"/>
<text  transform="translate(198.9 505.62) scale(1.17 1)" font-size="7.1" text-anchor="end" fill="#111" stroke="#111" stroke-width="0.2">ACOX3</text>
<text  transform="translate(224.05 505.62) scale(1.17 1)" font-size="7.1" text-anchor="middle" fill="#111" stroke="#111" stroke-width="0.16">-1.53</text>
<rect shape-rendering="crispEdges" x="200.3" y="507.6" width="47.5" height="8.8" fill="#fee6e8"/>
<text  transform="translate(198.9 514.38) scale(1.17 1)" font-size="7.1" text-anchor="end" fill="#111" stroke="#111" stroke-width="0.2">ACSL1</text>
<text  transform="translate(224.05 514.38) scale(1.17 1)" font-size="7.1" text-anchor="middle" fill="#111" stroke="#111" stroke-width="0.16">0.50</text>
<rect shape-rendering="crispEdges" x="200.3" y="516.35" width="47.5" height="8.8" fill="#fddddf"/>
<text  transform="translate(198.9 523.12) scale(1.17 1)" font-size="7.1" text-anchor="end" fill="#111" stroke="#111" stroke-width="0.2">ACSL3</text>
<text  transform="translate(224.05 523.12) scale(1.17 1)" font-size="7.1" text-anchor="middle" fill="#111" stroke="#111" stroke-width="0.16">0.89</text>
<rect shape-rendering="crispEdges" x="200.3" y="525.1" width="47.5" height="8.8" fill="#fde1e4"/>
<text  transform="translate(198.9 531.88) scale(1.17 1)" font-size="7.1" text-anchor="end" fill="#111" stroke="#111" stroke-width="0.2">ACSL4</text>
<text  transform="translate(224.05 531.88) scale(1.17 1)" font-size="7.1" text-anchor="middle" fill="#111" stroke="#111" stroke-width="0.16">0.69</text>
<rect shape-rendering="crispEdges" x="200.3" y="533.85" width="47.5" height="8.8" fill="#fbb2b9"/>
<text  transform="translate(198.9 540.62) scale(1.17 1)" font-size="7.1" text-anchor="end" fill="#111" stroke="#111" stroke-width="0.2">ACSL5</text>
<text  transform="translate(224.05 540.62) scale(1.17 1)" font-size="7.1" text-anchor="middle" fill="#111" stroke="#111" stroke-width="0.16">2.69</text>
<rect shape-rendering="crispEdges" x="200.3" y="542.6" width="47.5" height="8.8" fill="#feecee"/>
<text  transform="translate(198.9 549.38) scale(1.17 1)" font-size="7.1" text-anchor="end" fill="#111" stroke="#111" stroke-width="0.2">FASN</text>
<text  transform="translate(224.05 549.38) scale(1.17 1)" font-size="7.1" text-anchor="middle" fill="#111" stroke="#111" stroke-width="0.16">0.21</text>
<rect x="251.9" y="349.9" width="18.1" height="199.7" fill="#00dcf5"/>
<text transform="translate(264.65 444.35) rotate(-90)" text-anchor="middle" font-size="10.5" font-weight="bold" fill="#fff">Fatty Acid Metabolism</text>
<rect x="238.1" y="37.2" width="8.8" height="8.95" fill="#fb7076"/>
<rect x="238.1" y="46.08" width="8.8" height="8.95" fill="#fdaaae"/>
<rect x="238.1" y="54.96" width="8.8" height="8.95" fill="#fee1e3"/>
<rect x="238.1" y="63.84" width="8.8" height="8.95" fill="#daf0e5"/>
<rect x="238.1" y="72.72" width="8.8" height="8.95" fill="#8dd6b4"/>
<rect x="238.1" y="81.6" width="8.8" height="8.95" fill="#08bb7d"/>
<text  transform="translate(267.9 45) scale(1.13 1)" font-size="9.2" font-weight="bold" text-anchor="end" fill="#000" >6.0</text>
<text  transform="translate(267.9 54.15) scale(1.13 1)" font-size="9.2" font-weight="bold" text-anchor="end" fill="#000" >4.4</text>
<text  transform="translate(267.9 63.3) scale(1.13 1)" font-size="9.2" font-weight="bold" text-anchor="end" fill="#000" >2.8</text>
<text  transform="translate(267.9 72.45) scale(1.13 1)" font-size="9.2" font-weight="bold" text-anchor="end" fill="#000" >1.2</text>
<text  transform="translate(267.9 81.6) scale(1.13 1)" font-size="9.2" font-weight="bold" text-anchor="end" fill="#000" >-0.4</text>
<text  transform="translate(267.9 90.75) scale(1.13 1)" font-size="9.2" font-weight="bold" text-anchor="end" fill="#000" >-2.0</text>
<text transform="translate(221.2 60) rotate(-90)" text-anchor="middle" font-size="9" font-weight="bold" fill="#000">log<tspan font-size="5.5" dy="2">2</tspan><tspan dy="-2">FC</tspan></text>
<text transform="translate(231.3 59.5) rotate(-90)" text-anchor="middle" font-size="8.8" font-weight="bold" fill="#000">(shTug1/shCtrl)</text>
</g>
<g id="panelB">
<text x="295.5" y="18.3"  font-size="14.5" font-weight="bold" fill="#000" >B</text>
<rect shape-rendering="crispEdges" x="311.9" y="49.3" width="8.38" height="9.51" fill="#8ea4ff"/>
<rect shape-rendering="crispEdges" x="320.22" y="49.3" width="8.38" height="9.51" fill="#8ea4ff"/>
<rect shape-rendering="crispEdges" x="328.54" y="49.3" width="8.38" height="9.51" fill="#8ea4ff"/>
<rect shape-rendering="crispEdges" x="336.87" y="49.3" width="8.38" height="9.51" fill="#f29799"/>
<rect shape-rendering="crispEdges" x="345.19" y="49.3" width="8.38" height="9.51" fill="#f29799"/>
<rect shape-rendering="crispEdges" x="353.51" y="49.3" width="8.38" height="9.51" fill="#ec696b"/>
<rect shape-rendering="crispEdges" x="361.83" y="49.3" width="8.38" height="9.51" fill="#8ea4ff"/>
<rect shape-rendering="crispEdges" x="370.16" y="49.3" width="8.38" height="9.51" fill="#8ea4ff"/>
<rect shape-rendering="crispEdges" x="378.48" y="49.3" width="8.38" height="9.51" fill="#8ea4ff"/>
<text x="392" y="57.75"  font-size="8.3" fill="#111" >Citrulline</text>
<rect shape-rendering="crispEdges" x="311.9" y="58.75" width="8.38" height="9.51" fill="#758fff"/>
<rect shape-rendering="crispEdges" x="320.22" y="58.75" width="8.38" height="9.51" fill="#758fff"/>
<rect shape-rendering="crispEdges" x="328.54" y="58.75" width="8.38" height="9.51" fill="#5c7bff"/>
<rect shape-rendering="crispEdges" x="336.87" y="58.75" width="8.38" height="9.51" fill="#f6babb"/>
<rect shape-rendering="crispEdges" x="345.19" y="58.75" width="8.38" height="9.51" fill="#f08c8e"/>
<rect shape-rendering="crispEdges" x="353.51" y="58.75" width="8.38" height="9.51" fill="#eb5d60"/>
<rect shape-rendering="crispEdges" x="361.83" y="58.75" width="8.38" height="9.51" fill="#a7b8ff"/>
<rect shape-rendering="crispEdges" x="370.16" y="58.75" width="8.38" height="9.51" fill="#c0ccff"/>
<rect shape-rendering="crispEdges" x="378.48" y="58.75" width="8.38" height="9.51" fill="#a7b8ff"/>
<text x="392" y="67.17"  font-size="8.3" fill="#111" >Ornithine</text>
<rect shape-rendering="crispEdges" x="311.9" y="68.2" width="8.38" height="9.51" fill="#a7b8ff"/>
<rect shape-rendering="crispEdges" x="320.22" y="68.2" width="8.38" height="9.51" fill="#b4c2ff"/>
<rect shape-rendering="crispEdges" x="328.54" y="68.2" width="8.38" height="9.51" fill="#a7b8ff"/>
<rect shape-rendering="crispEdges" x="336.87" y="68.2" width="8.38" height="9.51" fill="#f29799"/>
<rect shape-rendering="crispEdges" x="345.19" y="68.2" width="8.38" height="9.51" fill="#ee7477"/>
<rect shape-rendering="crispEdges" x="353.51" y="68.2" width="8.38" height="9.51" fill="#ef8082"/>
<rect shape-rendering="crispEdges" x="361.83" y="68.2" width="8.38" height="9.51" fill="#5c7bff"/>
<rect shape-rendering="crispEdges" x="370.16" y="68.2" width="8.38" height="9.51" fill="#c0ccff"/>
<rect shape-rendering="crispEdges" x="378.48" y="68.2" width="8.38" height="9.51" fill="#4f71ff"/>
<text x="392" y="76.59"  font-size="8.3" fill="#111" >dCMP</text>
<rect shape-rendering="crispEdges" x="311.9" y="77.64" width="8.38" height="9.51" fill="#b4c2ff"/>
<rect shape-rendering="crispEdges" x="320.22" y="77.64" width="8.38" height="9.51" fill="#cdd6ff"/>
<rect shape-rendering="crispEdges" x="328.54" y="77.64" width="8.38" height="9.51" fill="#b4c2ff"/>
<rect shape-rendering="crispEdges" x="336.87" y="77.64" width="8.38" height="9.51" fill="#ef8082"/>
<rect shape-rendering="crispEdges" x="345.19" y="77.64" width="8.38" height="9.51" fill="#ef8082"/>
<rect shape-rendering="crispEdges" x="353.51" y="77.64" width="8.38" height="9.51" fill="#f08c8e"/>
<rect shape-rendering="crispEdges" x="361.83" y="77.64" width="8.38" height="9.51" fill="#758fff"/>
<rect shape-rendering="crispEdges" x="370.16" y="77.64" width="8.38" height="9.51" fill="#829aff"/>
<rect shape-rendering="crispEdges" x="378.48" y="77.64" width="8.38" height="9.51" fill="#5c7bff"/>
<text x="392" y="86.01"  font-size="8.3" fill="#111" >UDP-Glucose</text>
<rect shape-rendering="crispEdges" x="311.9" y="87.09" width="8.38" height="9.51" fill="#fce8e8"/>
<rect shape-rendering="crispEdges" x="320.22" y="87.09" width="8.38" height="9.51" fill="#b4c2ff"/>
<rect shape-rendering="crispEdges" x="328.54" y="87.09" width="8.38" height="9.51" fill="#113eff"/>
<rect shape-rendering="crispEdges" x="336.87" y="87.09" width="8.38" height="9.51" fill="#f29799"/>
<rect shape-rendering="crispEdges" x="345.19" y="87.09" width="8.38" height="9.51" fill="#fad7d7"/>
<rect shape-rendering="crispEdges" x="353.51" y="87.09" width="8.38" height="9.51" fill="#fbdcdd"/>
<rect shape-rendering="crispEdges" x="361.83" y="87.09" width="8.38" height="9.51" fill="#829aff"/>
<rect shape-rendering="crispEdges" x="370.16" y="87.09" width="8.38" height="9.51" fill="#f3a3a4"/>
<rect shape-rendering="crispEdges" x="378.48" y="87.09" width="8.38" height="9.51" fill="#0434ff"/>
<text x="392" y="95.43"  font-size="8.3" fill="#111" >dTDP</text>
<rect shape-rendering="crispEdges" x="311.9" y="96.54" width="8.38" height="9.51" fill="#4367ff"/>
<rect shape-rendering="crispEdges" x="320.22" y="96.54" width="8.38" height="9.51" fill="#9baeff"/>
<rect shape-rendering="crispEdges" x="328.54" y="96.54" width="8.38" height="9.51" fill="#9baeff"/>
<rect shape-rendering="crispEdges" x="336.87" y="96.54" width="8.38" height="9.51" fill="#f5aeb0"/>
<rect shape-rendering="crispEdges" x="345.19" y="96.54" width="8.38" height="9.51" fill="#ec696b"/>
<rect shape-rendering="crispEdges" x="353.51" y="96.54" width="8.38" height="9.51" fill="#f29799"/>
<rect shape-rendering="crispEdges" x="361.83" y="96.54" width="8.38" height="9.51" fill="#d9e1ff"/>
<rect shape-rendering="crispEdges" x="370.16" y="96.54" width="8.38" height="9.51" fill="#4f71ff"/>
<rect shape-rendering="crispEdges" x="378.48" y="96.54" width="8.38" height="9.51" fill="#e6ebff"/>
<text x="392" y="104.85"  font-size="8.3" fill="#111" >Uridine</text>
<rect shape-rendering="crispEdges" x="311.9" y="105.99" width="8.38" height="9.51" fill="#8ea4ff"/>
<rect shape-rendering="crispEdges" x="320.22" y="105.99" width="8.38" height="9.51" fill="#b4c2ff"/>
<rect shape-rendering="crispEdges" x="328.54" y="105.99" width="8.38" height="9.51" fill="#8ea4ff"/>
<rect shape-rendering="crispEdges" x="336.87" y="105.99" width="8.38" height="9.51" fill="#f8c5c6"/>
<rect shape-rendering="crispEdges" x="345.19" y="105.99" width="8.38" height="9.51" fill="#e2181c"/>
<rect shape-rendering="crispEdges" x="353.51" y="105.99" width="8.38" height="9.51" fill="#f9d1d2"/>
<rect shape-rendering="crispEdges" x="361.83" y="105.99" width="8.38" height="9.51" fill="#9baeff"/>
<rect shape-rendering="crispEdges" x="370.16" y="105.99" width="8.38" height="9.51" fill="#9baeff"/>
<rect shape-rendering="crispEdges" x="378.48" y="105.99" width="8.38" height="9.51" fill="#a7b8ff"/>
<text x="392" y="114.27"  font-size="8.3" fill="#111" >Phosphoric acid</text>
<rect shape-rendering="crispEdges" x="311.9" y="115.44" width="8.38" height="9.51" fill="#8ea4ff"/>
<rect shape-rendering="crispEdges" x="320.22" y="115.44" width="8.38" height="9.51" fill="#d9e1ff"/>
<rect shape-rendering="crispEdges" x="328.54" y="115.44" width="8.38" height="9.51" fill="#8ea4ff"/>
<rect shape-rendering="crispEdges" x="336.87" y="115.44" width="8.38" height="9.51" fill="#f8c5c6"/>
<rect shape-rendering="crispEdges" x="345.19" y="115.44" width="8.38" height="9.51" fill="#e84649"/>
<rect shape-rendering="crispEdges" x="353.51" y="115.44" width="8.38" height="9.51" fill="#f29799"/>
<rect shape-rendering="crispEdges" x="361.83" y="115.44" width="8.38" height="9.51" fill="#8ea4ff"/>
<rect shape-rendering="crispEdges" x="370.16" y="115.44" width="8.38" height="9.51" fill="#a7b8ff"/>
<rect shape-rendering="crispEdges" x="378.48" y="115.44" width="8.38" height="9.51" fill="#758fff"/>
<text x="392" y="123.69"  font-size="8.3" fill="#111" >dUMP</text>
<rect shape-rendering="crispEdges" x="311.9" y="124.88" width="8.38" height="9.51" fill="#b4c2ff"/>
<rect shape-rendering="crispEdges" x="320.22" y="124.88" width="8.38" height="9.51" fill="#9baeff"/>
<rect shape-rendering="crispEdges" x="328.54" y="124.88" width="8.38" height="9.51" fill="#4367ff"/>
<rect shape-rendering="crispEdges" x="336.87" y="124.88" width="8.38" height="9.51" fill="#e95255"/>
<rect shape-rendering="crispEdges" x="345.19" y="124.88" width="8.38" height="9.51" fill="#ef8082"/>
<rect shape-rendering="crispEdges" x="353.51" y="124.88" width="8.38" height="9.51" fill="#fbdcdd"/>
<rect shape-rendering="crispEdges" x="361.83" y="124.88" width="8.38" height="9.51" fill="#d9e1ff"/>
<rect shape-rendering="crispEdges" x="370.16" y="124.88" width="8.38" height="9.51" fill="#829aff"/>
<rect shape-rendering="crispEdges" x="378.48" y="124.88" width="8.38" height="9.51" fill="#b4c2ff"/>
<text x="392" y="133.11"  font-size="8.3" fill="#111" >Orotidine</text>
<rect shape-rendering="crispEdges" x="311.9" y="134.33" width="8.38" height="9.51" fill="#c0ccff"/>
<rect shape-rendering="crispEdges" x="320.22" y="134.33" width="8.38" height="9.51" fill="#cdd6ff"/>
<rect shape-rendering="crispEdges" x="328.54" y="134.33" width="8.38" height="9.51" fill="#c0ccff"/>
<rect shape-rendering="crispEdges" x="336.87" y="134.33" width="8.38" height="9.51" fill="#ef8082"/>
<rect shape-rendering="crispEdges" x="345.19" y="134.33" width="8.38" height="9.51" fill="#f08c8e"/>
<rect shape-rendering="crispEdges" x="353.51" y="134.33" width="8.38" height="9.51" fill="#f08c8e"/>
<rect shape-rendering="crispEdges" x="361.83" y="134.33" width="8.38" height="9.51" fill="#6885ff"/>
<rect shape-rendering="crispEdges" x="370.16" y="134.33" width="8.38" height="9.51" fill="#829aff"/>
<rect shape-rendering="crispEdges" x="378.48" y="134.33" width="8.38" height="9.51" fill="#5c7bff"/>
<text x="392" y="142.53"  font-size="8.3" fill="#111" >dCDP</text>
<rect shape-rendering="crispEdges" x="311.9" y="143.78" width="8.38" height="9.51" fill="#6885ff"/>
<rect shape-rendering="crispEdges" x="320.22" y="143.78" width="8.38" height="9.51" fill="#a7b8ff"/>
<rect shape-rendering="crispEdges" x="328.54" y="143.78" width="8.38" height="9.51" fill="#a7b8ff"/>
<rect shape-rendering="crispEdges" x="336.87" y="143.78" width="8.38" height="9.51" fill="#f6babb"/>
<rect shape-rendering="crispEdges" x="345.19" y="143.78" width="8.38" height="9.51" fill="#e95255"/>
<rect shape-rendering="crispEdges" x="353.51" y="143.78" width="8.38" height="9.51" fill="#f3a3a4"/>
<rect shape-rendering="crispEdges" x="361.83" y="143.78" width="8.38" height="9.51" fill="#9baeff"/>
<rect shape-rendering="crispEdges" x="370.16" y="143.78" width="8.38" height="9.51" fill="#f9faff"/>
<rect shape-rendering="crispEdges" x="378.48" y="143.78" width="8.38" height="9.51" fill="#2a52ff"/>
<text x="392" y="151.95"  font-size="8.3" fill="#111" >L-b-aspartyl-L-glutamate</text>
<rect shape-rendering="crispEdges" x="311.9" y="153.23" width="8.38" height="9.51" fill="#6885ff"/>
<rect shape-rendering="crispEdges" x="320.22" y="153.23" width="8.38" height="9.51" fill="#829aff"/>
<rect shape-rendering="crispEdges" x="328.54" y="153.23" width="8.38" height="9.51" fill="#5c7bff"/>
<rect shape-rendering="crispEdges" x="336.87" y="153.23" width="8.38" height="9.51" fill="#f6babb"/>
<rect shape-rendering="crispEdges" x="345.19" y="153.23" width="8.38" height="9.51" fill="#e84649"/>
<rect shape-rendering="crispEdges" x="353.51" y="153.23" width="8.38" height="9.51" fill="#f8c5c6"/>
<rect shape-rendering="crispEdges" x="361.83" y="153.23" width="8.38" height="9.51" fill="#fef3f4"/>
<rect shape-rendering="crispEdges" x="370.16" y="153.23" width="8.38" height="9.51" fill="#6885ff"/>
<rect shape-rendering="crispEdges" x="378.48" y="153.23" width="8.38" height="9.51" fill="#d9e1ff"/>
<text x="392" y="161.37"  font-size="8.3" fill="#111" >Inosine</text>
<rect shape-rendering="crispEdges" x="311.9" y="162.68" width="8.38" height="9.51" fill="#9baeff"/>
<rect shape-rendering="crispEdges" x="320.22" y="162.68" width="8.38" height="9.51" fill="#c0ccff"/>
<rect shape-rendering="crispEdges" x="328.54" y="162.68" width="8.38" height="9.51" fill="#758fff"/>
<rect shape-rendering="crispEdges" x="336.87" y="162.68" width="8.38" height="9.51" fill="#f08c8e"/>
<rect shape-rendering="crispEdges" x="345.19" y="162.68" width="8.38" height="9.51" fill="#e63b3e"/>
<rect shape-rendering="crispEdges" x="353.51" y="162.68" width="8.38" height="9.51" fill="#ffffff"/>
<rect shape-rendering="crispEdges" x="361.83" y="162.68" width="8.38" height="9.51" fill="#e6ebff"/>
<rect shape-rendering="crispEdges" x="370.16" y="162.68" width="8.38" height="9.51" fill="#6885ff"/>
<rect shape-rendering="crispEdges" x="378.48" y="162.68" width="8.38" height="9.51" fill="#8ea4ff"/>
<text x="392" y="170.79"  font-size="8.3" fill="#111" >Pyrophosphate</text>
<rect shape-rendering="crispEdges" x="311.9" y="172.12" width="8.38" height="9.51" fill="#758fff"/>
<rect shape-rendering="crispEdges" x="320.22" y="172.12" width="8.38" height="9.51" fill="#4367ff"/>
<rect shape-rendering="crispEdges" x="328.54" y="172.12" width="8.38" height="9.51" fill="#758fff"/>
<rect shape-rendering="crispEdges" x="336.87" y="172.12" width="8.38" height="9.51" fill="#e95255"/>
<rect shape-rendering="crispEdges" x="345.19" y="172.12" width="8.38" height="9.51" fill="#f9d1d2"/>
<rect shape-rendering="crispEdges" x="353.51" y="172.12" width="8.38" height="9.51" fill="#f08c8e"/>
<rect shape-rendering="crispEdges" x="361.83" y="172.12" width="8.38" height="9.51" fill="#ffffff"/>
<rect shape-rendering="crispEdges" x="370.16" y="172.12" width="8.38" height="9.51" fill="#c0ccff"/>
<rect shape-rendering="crispEdges" x="378.48" y="172.12" width="8.38" height="9.51" fill="#a7b8ff"/>
<text x="392" y="180.21"  font-size="8.3" fill="#111" >Ribonic acid</text>
<rect shape-rendering="crispEdges" x="311.9" y="181.57" width="8.38" height="9.51" fill="#829aff"/>
<rect shape-rendering="crispEdges" x="320.22" y="181.57" width="8.38" height="9.51" fill="#d9e1ff"/>
<rect shape-rendering="crispEdges" x="328.54" y="181.57" width="8.38" height="9.51" fill="#cdd6ff"/>
<rect shape-rendering="crispEdges" x="336.87" y="181.57" width="8.38" height="9.51" fill="#f6babb"/>
<rect shape-rendering="crispEdges" x="345.19" y="181.57" width="8.38" height="9.51" fill="#f3a3a4"/>
<rect shape-rendering="crispEdges" x="353.51" y="181.57" width="8.38" height="9.51" fill="#f6babb"/>
<rect shape-rendering="crispEdges" x="361.83" y="181.57" width="8.38" height="9.51" fill="#0434ff"/>
<rect shape-rendering="crispEdges" x="370.16" y="181.57" width="8.38" height="9.51" fill="#f6babb"/>
<rect shape-rendering="crispEdges" x="378.48" y="181.57" width="8.38" height="9.51" fill="#8ea4ff"/>
<text x="392" y="189.63"  font-size="8.3" fill="#111" >N-Formyl-GAR</text>
<rect shape-rendering="crispEdges" x="311.9" y="191.02" width="8.38" height="9.51" fill="#fbdcdd"/>
<rect shape-rendering="crispEdges" x="320.22" y="191.02" width="8.38" height="9.51" fill="#f5aeb0"/>
<rect shape-rendering="crispEdges" x="328.54" y="191.02" width="8.38" height="9.51" fill="#fad7d7"/>
<rect shape-rendering="crispEdges" x="336.87" y="191.02" width="8.38" height="9.51" fill="#0434ff"/>
<rect shape-rendering="crispEdges" x="345.19" y="191.02" width="8.38" height="9.51" fill="#2a52ff"/>
<rect shape-rendering="crispEdges" x="353.51" y="191.02" width="8.38" height="9.51" fill="#4367ff"/>
<rect shape-rendering="crispEdges" x="361.83" y="191.02" width="8.38" height="9.51" fill="#f9d1d2"/>
<rect shape-rendering="crispEdges" x="370.16" y="191.02" width="8.38" height="9.51" fill="#fbe2e3"/>
<rect shape-rendering="crispEdges" x="378.48" y="191.02" width="8.38" height="9.51" fill="#f6babb"/>
<text x="392" y="199.05"  font-size="8.3" fill="#111" >Proline</text>
<rect shape-rendering="crispEdges" x="311.9" y="200.47" width="8.38" height="9.51" fill="#fce8e8"/>
<rect shape-rendering="crispEdges" x="320.22" y="200.47" width="8.38" height="9.51" fill="#f6babb"/>
<rect shape-rendering="crispEdges" x="328.54" y="200.47" width="8.38" height="9.51" fill="#f5aeb0"/>
<rect shape-rendering="crispEdges" x="336.87" y="200.47" width="8.38" height="9.51" fill="#a7b8ff"/>
<rect shape-rendering="crispEdges" x="345.19" y="200.47" width="8.38" height="9.51" fill="#0434ff"/>
<rect shape-rendering="crispEdges" x="353.51" y="200.47" width="8.38" height="9.51" fill="#2a52ff"/>
<rect shape-rendering="crispEdges" x="361.83" y="200.47" width="8.38" height="9.51" fill="#fbdcdd"/>
<rect shape-rendering="crispEdges" x="370.16" y="200.47" width="8.38" height="9.51" fill="#cdd6ff"/>
<rect shape-rendering="crispEdges" x="378.48" y="200.47" width="8.38" height="9.51" fill="#f5aeb0"/>
<text x="392" y="208.47"  font-size="8.3" fill="#111" >Alanine</text>
<rect shape-rendering="crispEdges" x="311.9" y="209.92" width="8.38" height="9.51" fill="#fbdcdd"/>
<rect shape-rendering="crispEdges" x="320.22" y="209.92" width="8.38" height="9.51" fill="#d9e1ff"/>
<rect shape-rendering="crispEdges" x="328.54" y="209.92" width="8.38" height="9.51" fill="#f8c5c6"/>
<rect shape-rendering="crispEdges" x="336.87" y="209.92" width="8.38" height="9.51" fill="#9baeff"/>
<rect shape-rendering="crispEdges" x="345.19" y="209.92" width="8.38" height="9.51" fill="#6885ff"/>
<rect shape-rendering="crispEdges" x="353.51" y="209.92" width="8.38" height="9.51" fill="#4f71ff"/>
<rect shape-rendering="crispEdges" x="361.83" y="209.92" width="8.38" height="9.51" fill="#829aff"/>
<rect shape-rendering="crispEdges" x="370.16" y="209.92" width="8.38" height="9.51" fill="#e52f33"/>
<rect shape-rendering="crispEdges" x="378.48" y="209.92" width="8.38" height="9.51" fill="#f9faff"/>
<text x="392" y="217.89"  font-size="8.3" fill="#111" >Inosinic acid</text>
<rect shape-rendering="crispEdges" x="311.9" y="219.36" width="8.38" height="9.51" fill="#f29799"/>
<rect shape-rendering="crispEdges" x="320.22" y="219.36" width="8.38" height="9.51" fill="#fbdcdd"/>
<rect shape-rendering="crispEdges" x="328.54" y="219.36" width="8.38" height="9.51" fill="#cdd6ff"/>
<rect shape-rendering="crispEdges" x="336.87" y="219.36" width="8.38" height="9.51" fill="#6885ff"/>
<rect shape-rendering="crispEdges" x="345.19" y="219.36" width="8.38" height="9.51" fill="#365dff"/>
<rect shape-rendering="crispEdges" x="353.51" y="219.36" width="8.38" height="9.51" fill="#365dff"/>
<rect shape-rendering="crispEdges" x="361.83" y="219.36" width="8.38" height="9.51" fill="#ee7477"/>
<rect shape-rendering="crispEdges" x="370.16" y="219.36" width="8.38" height="9.51" fill="#fdeeee"/>
<rect shape-rendering="crispEdges" x="378.48" y="219.36" width="8.38" height="9.51" fill="#fef9f9"/>
<text x="392" y="227.31"  font-size="8.3" fill="#111" >Phosphoserine</text>
<rect shape-rendering="crispEdges" x="311.9" y="228.81" width="8.38" height="9.51" fill="#f9faff"/>
<rect shape-rendering="crispEdges" x="320.22" y="228.81" width="8.38" height="9.51" fill="#ef8082"/>
<rect shape-rendering="crispEdges" x="328.54" y="228.81" width="8.38" height="9.51" fill="#fbdcdd"/>
<rect shape-rendering="crispEdges" x="336.87" y="228.81" width="8.38" height="9.51" fill="#4f71ff"/>
<rect shape-rendering="crispEdges" x="345.19" y="228.81" width="8.38" height="9.51" fill="#5c7bff"/>
<rect shape-rendering="crispEdges" x="353.51" y="228.81" width="8.38" height="9.51" fill="#4367ff"/>
<rect shape-rendering="crispEdges" x="361.83" y="228.81" width="8.38" height="9.51" fill="#f08c8e"/>
<rect shape-rendering="crispEdges" x="370.16" y="228.81" width="8.38" height="9.51" fill="#758fff"/>
<rect shape-rendering="crispEdges" x="378.48" y="228.81" width="8.38" height="9.51" fill="#f8c5c6"/>
<text x="392" y="236.73"  font-size="8.3" fill="#111" >Glycerol-3-phosphate</text>
<rect shape-rendering="crispEdges" x="311.9" y="238.26" width="8.38" height="9.51" fill="#eb5d60"/>
<rect shape-rendering="crispEdges" x="320.22" y="238.26" width="8.38" height="9.51" fill="#f8c5c6"/>
<rect shape-rendering="crispEdges" x="328.54" y="238.26" width="8.38" height="9.51" fill="#f2f5ff"/>
<rect shape-rendering="crispEdges" x="336.87" y="238.26" width="8.38" height="9.51" fill="#9baeff"/>
<rect shape-rendering="crispEdges" x="345.19" y="238.26" width="8.38" height="9.51" fill="#113eff"/>
<rect shape-rendering="crispEdges" x="353.51" y="238.26" width="8.38" height="9.51" fill="#9baeff"/>
<rect shape-rendering="crispEdges" x="361.83" y="238.26" width="8.38" height="9.51" fill="#9baeff"/>
<rect shape-rendering="crispEdges" x="370.16" y="238.26" width="8.38" height="9.51" fill="#ef8082"/>
<rect shape-rendering="crispEdges" x="378.48" y="238.26" width="8.38" height="9.51" fill="#9baeff"/>
<text x="392" y="246.15"  font-size="8.3" fill="#111" >Fructose-1,6-bisphosphate</text>
<rect shape-rendering="crispEdges" x="311.9" y="247.71" width="8.38" height="9.51" fill="#6885ff"/>
<rect shape-rendering="crispEdges" x="320.22" y="247.71" width="8.38" height="9.51" fill="#1d48ff"/>
<rect shape-rendering="crispEdges" x="328.54" y="247.71" width="8.38" height="9.51" fill="#365dff"/>
<rect shape-rendering="crispEdges" x="336.87" y="247.71" width="8.38" height="9.51" fill="#eb5d60"/>
<rect shape-rendering="crispEdges" x="345.19" y="247.71" width="8.38" height="9.51" fill="#fad7d7"/>
<rect shape-rendering="crispEdges" x="353.51" y="247.71" width="8.38" height="9.51" fill="#f3a3a4"/>
<rect shape-rendering="crispEdges" x="361.83" y="247.71" width="8.38" height="9.51" fill="#fbdcdd"/>
<rect shape-rendering="crispEdges" x="370.16" y="247.71" width="8.38" height="9.51" fill="#d9e1ff"/>
<rect shape-rendering="crispEdges" x="378.48" y="247.71" width="8.38" height="9.51" fill="#e0e6ff"/>
<text x="392" y="255.57"  font-size="8.3" fill="#111" >Gluconic acid</text>
<rect shape-rendering="crispEdges" x="311.9" y="257.16" width="8.38" height="9.51" fill="#fef9f9"/>
<rect shape-rendering="crispEdges" x="320.22" y="257.16" width="8.38" height="9.51" fill="#d9e1ff"/>
<rect shape-rendering="crispEdges" x="328.54" y="257.16" width="8.38" height="9.51" fill="#fbe2e3"/>
<rect shape-rendering="crispEdges" x="336.87" y="257.16" width="8.38" height="9.51" fill="#cdd6ff"/>
<rect shape-rendering="crispEdges" x="345.19" y="257.16" width="8.38" height="9.51" fill="#0434ff"/>
<rect shape-rendering="crispEdges" x="353.51" y="257.16" width="8.38" height="9.51" fill="#5c7bff"/>
<rect shape-rendering="crispEdges" x="361.83" y="257.16" width="8.38" height="9.51" fill="#e52f33"/>
<rect shape-rendering="crispEdges" x="370.16" y="257.16" width="8.38" height="9.51" fill="#fdeeee"/>
<rect shape-rendering="crispEdges" x="378.48" y="257.16" width="8.38" height="9.51" fill="#fdeeee"/>
<text x="392" y="264.99"  font-size="8.3" fill="#111" >L-4-OH-glutamate semialdehyde</text>
<rect shape-rendering="crispEdges" x="311.9" y="266.6" width="8.38" height="9.51" fill="#f8c5c6"/>
<rect shape-rendering="crispEdges" x="320.22" y="266.6" width="8.38" height="9.51" fill="#f3a3a4"/>
<rect shape-rendering="crispEdges" x="328.54" y="266.6" width="8.38" height="9.51" fill="#ef8082"/>
<rect shape-rendering="crispEdges" x="336.87" y="266.6" width="8.38" height="9.51" fill="#758fff"/>
<rect shape-rendering="crispEdges" x="345.19" y="266.6" width="8.38" height="9.51" fill="#0434ff"/>
<rect shape-rendering="crispEdges" x="353.51" y="266.6" width="8.38" height="9.51" fill="#8ea4ff"/>
<rect shape-rendering="crispEdges" x="361.83" y="266.6" width="8.38" height="9.51" fill="#8ea4ff"/>
<rect shape-rendering="crispEdges" x="370.16" y="266.6" width="8.38" height="9.51" fill="#fef3f4"/>
<rect shape-rendering="crispEdges" x="378.48" y="266.6" width="8.38" height="9.51" fill="#fef3f4"/>
<text x="392" y="274.41"  font-size="8.3" fill="#111" >ADP</text>
<rect shape-rendering="crispEdges" x="311.9" y="276.05" width="8.38" height="9.51" fill="#f5aeb0"/>
<rect shape-rendering="crispEdges" x="320.22" y="276.05" width="8.38" height="9.51" fill="#f29799"/>
<rect shape-rendering="crispEdges" x="328.54" y="276.05" width="8.38" height="9.51" fill="#f08c8e"/>
<rect shape-rendering="crispEdges" x="336.87" y="276.05" width="8.38" height="9.51" fill="#4367ff"/>
<rect shape-rendering="crispEdges" x="345.19" y="276.05" width="8.38" height="9.51" fill="#0434ff"/>
<rect shape-rendering="crispEdges" x="353.51" y="276.05" width="8.38" height="9.51" fill="#9baeff"/>
<rect shape-rendering="crispEdges" x="361.83" y="276.05" width="8.38" height="9.51" fill="#c0ccff"/>
<rect shape-rendering="crispEdges" x="370.16" y="276.05" width="8.38" height="9.51" fill="#c0ccff"/>
<rect shape-rendering="crispEdges" x="378.48" y="276.05" width="8.38" height="9.51" fill="#fbe2e3"/>
<text x="392" y="283.83"  font-size="8.3" fill="#111" >GDP</text>
<rect x="387.3" y="50.0" width="41.2" height="19.2" fill="none" stroke="#e91c24" stroke-width="1.25"/>
<rect x="311" y="290.7" width="24.8" height="2" fill="#000"/>
<rect x="337.2" y="290.7" width="24.7" height="2" fill="#000"/>
<rect x="364" y="290.7" width="24.9" height="2" fill="#000"/>
<rect shape-rendering="crispEdges" x="535.4" y="49.3" width="8.34" height="9.51" fill="#9baeff"/>
<rect shape-rendering="crispEdges" x="543.68" y="49.3" width="8.34" height="9.51" fill="#9baeff"/>
<rect shape-rendering="crispEdges" x="551.96" y="49.3" width="8.34" height="9.51" fill="#9baeff"/>
<rect shape-rendering="crispEdges" x="560.23" y="49.3" width="8.34" height="9.51" fill="#f29799"/>
<rect shape-rendering="crispEdges" x="568.51" y="49.3" width="8.34" height="9.51" fill="#f29799"/>
<rect shape-rendering="crispEdges" x="576.79" y="49.3" width="8.34" height="9.51" fill="#ee7477"/>
<rect shape-rendering="crispEdges" x="585.07" y="49.3" width="8.34" height="9.51" fill="#9baeff"/>
<rect shape-rendering="crispEdges" x="593.34" y="49.3" width="8.34" height="9.51" fill="#9baeff"/>
<rect shape-rendering="crispEdges" x="601.62" y="49.3" width="8.34" height="9.51" fill="#9baeff"/>
<text x="613.8" y="57.75"  font-size="8.3" fill="#111" >Citrulline</text>
<rect shape-rendering="crispEdges" x="535.4" y="58.75" width="8.34" height="9.51" fill="#829aff"/>
<rect shape-rendering="crispEdges" x="543.68" y="58.75" width="8.34" height="9.51" fill="#829aff"/>
<rect shape-rendering="crispEdges" x="551.96" y="58.75" width="8.34" height="9.51" fill="#758fff"/>
<rect shape-rendering="crispEdges" x="560.23" y="58.75" width="8.34" height="9.51" fill="#f8c5c6"/>
<rect shape-rendering="crispEdges" x="568.51" y="58.75" width="8.34" height="9.51" fill="#f08c8e"/>
<rect shape-rendering="crispEdges" x="576.79" y="58.75" width="8.34" height="9.51" fill="#ec696b"/>
<rect shape-rendering="crispEdges" x="585.07" y="58.75" width="8.34" height="9.51" fill="#c0ccff"/>
<rect shape-rendering="crispEdges" x="593.34" y="58.75" width="8.34" height="9.51" fill="#cdd6ff"/>
<rect shape-rendering="crispEdges" x="601.62" y="58.75" width="8.34" height="9.51" fill="#c0ccff"/>
<text x="613.8" y="67.17"  font-size="8.3" fill="#111" >Ornithine</text>
<rect shape-rendering="crispEdges" x="535.4" y="68.2" width="8.34" height="9.51" fill="#b4c2ff"/>
<rect shape-rendering="crispEdges" x="543.68" y="68.2" width="8.34" height="9.51" fill="#9baeff"/>
<rect shape-rendering="crispEdges" x="551.96" y="68.2" width="8.34" height="9.51" fill="#6885ff"/>
<rect shape-rendering="crispEdges" x="560.23" y="68.2" width="8.34" height="9.51" fill="#ec696b"/>
<rect shape-rendering="crispEdges" x="568.51" y="68.2" width="8.34" height="9.51" fill="#ef8082"/>
<rect shape-rendering="crispEdges" x="576.79" y="68.2" width="8.34" height="9.51" fill="#fad7d7"/>
<rect shape-rendering="crispEdges" x="585.07" y="68.2" width="8.34" height="9.51" fill="#f2f5ff"/>
<rect shape-rendering="crispEdges" x="593.34" y="68.2" width="8.34" height="9.51" fill="#758fff"/>
<rect shape-rendering="crispEdges" x="601.62" y="68.2" width="8.34" height="9.51" fill="#cdd6ff"/>
<text x="613.8" y="76.59"  font-size="8.3" fill="#111" >Orotidine</text>
<rect shape-rendering="crispEdges" x="535.4" y="77.64" width="8.34" height="9.51" fill="#fef3f4"/>
<rect shape-rendering="crispEdges" x="543.68" y="77.64" width="8.34" height="9.51" fill="#d9e1ff"/>
<rect shape-rendering="crispEdges" x="551.96" y="77.64" width="8.34" height="9.51" fill="#0434ff"/>
<rect shape-rendering="crispEdges" x="560.23" y="77.64" width="8.34" height="9.51" fill="#ee7477"/>
<rect shape-rendering="crispEdges" x="568.51" y="77.64" width="8.34" height="9.51" fill="#f6babb"/>
<rect shape-rendering="crispEdges" x="576.79" y="77.64" width="8.34" height="9.51" fill="#c0ccff"/>
<rect shape-rendering="crispEdges" x="585.07" y="77.64" width="8.34" height="9.51" fill="#f6babb"/>
<rect shape-rendering="crispEdges" x="593.34" y="77.64" width="8.34" height="9.51" fill="#5c7bff"/>
<rect shape-rendering="crispEdges" x="601.62" y="77.64" width="8.34" height="9.51" fill="#ecf0ff"/>
<text x="613.8" y="86.01"  font-size="8.3" fill="#111" >Citric acid</text>
<rect shape-rendering="crispEdges" x="535.4" y="87.09" width="8.34" height="9.51" fill="#9baeff"/>
<rect shape-rendering="crispEdges" x="543.68" y="87.09" width="8.34" height="9.51" fill="#fad7d7"/>
<rect shape-rendering="crispEdges" x="551.96" y="87.09" width="8.34" height="9.51" fill="#cdd6ff"/>
<rect shape-rendering="crispEdges" x="560.23" y="87.09" width="8.34" height="9.51" fill="#d9e1ff"/>
<rect shape-rendering="crispEdges" x="568.51" y="87.09" width="8.34" height="9.51" fill="#e52f33"/>
<rect shape-rendering="crispEdges" x="576.79" y="87.09" width="8.34" height="9.51" fill="#fad7d7"/>
<rect shape-rendering="crispEdges" x="585.07" y="87.09" width="8.34" height="9.51" fill="#829aff"/>
<rect shape-rendering="crispEdges" x="593.34" y="87.09" width="8.34" height="9.51" fill="#6885ff"/>
<rect shape-rendering="crispEdges" x="601.62" y="87.09" width="8.34" height="9.51" fill="#ecf0ff"/>
<text x="613.8" y="95.43"  font-size="8.3" fill="#111" >NADH</text>
<rect shape-rendering="crispEdges" x="535.4" y="96.54" width="8.34" height="9.51" fill="#d9e1ff"/>
<rect shape-rendering="crispEdges" x="543.68" y="96.54" width="8.34" height="9.51" fill="#f3a3a4"/>
<rect shape-rendering="crispEdges" x="551.96" y="96.54" width="8.34" height="9.51" fill="#f9d1d2"/>
<rect shape-rendering="crispEdges" x="560.23" y="96.54" width="8.34" height="9.51" fill="#fbdcdd"/>
<rect shape-rendering="crispEdges" x="568.51" y="96.54" width="8.34" height="9.51" fill="#fbe2e3"/>
<rect shape-rendering="crispEdges" x="576.79" y="96.54" width="8.34" height="9.51" fill="#f5aeb0"/>
<rect shape-rendering="crispEdges" x="585.07" y="96.54" width="8.34" height="9.51" fill="#365dff"/>
<rect shape-rendering="crispEdges" x="593.34" y="96.54" width="8.34" height="9.51" fill="#0434ff"/>
<rect shape-rendering="crispEdges" x="601.62" y="96.54" width="8.34" height="9.51" fill="#c0ccff"/>
<text x="613.8" y="104.85"  font-size="8.3" fill="#111" >UMP</text>
<rect shape-rendering="crispEdges" x="535.4" y="105.99" width="8.34" height="9.51" fill="#5c7bff"/>
<rect shape-rendering="crispEdges" x="543.68" y="105.99" width="8.34" height="9.51" fill="#f5aeb0"/>
<rect shape-rendering="crispEdges" x="551.96" y="105.99" width="8.34" height="9.51" fill="#4367ff"/>
<rect shape-rendering="crispEdges" x="560.23" y="105.99" width="8.34" height="9.51" fill="#c0ccff"/>
<rect shape-rendering="crispEdges" x="568.51" y="105.99" width="8.34" height="9.51" fill="#fef9f9"/>
<rect shape-rendering="crispEdges" x="576.79" y="105.99" width="8.34" height="9.51" fill="#8ea4ff"/>
<rect shape-rendering="crispEdges" x="585.07" y="105.99" width="8.34" height="9.51" fill="#f8c5c6"/>
<rect shape-rendering="crispEdges" x="593.34" y="105.99" width="8.34" height="9.51" fill="#fef3f4"/>
<rect shape-rendering="crispEdges" x="601.62" y="105.99" width="8.34" height="9.51" fill="#ee7477"/>
<text x="613.8" y="114.27"  font-size="8.3" fill="#111" >Orotic acid</text>
<rect shape-rendering="crispEdges" x="535.4" y="115.44" width="8.34" height="9.51" fill="#cdd6ff"/>
<rect shape-rendering="crispEdges" x="543.68" y="115.44" width="8.34" height="9.51" fill="#cdd6ff"/>
<rect shape-rendering="crispEdges" x="551.96" y="115.44" width="8.34" height="9.51" fill="#ffffff"/>
<rect shape-rendering="crispEdges" x="560.23" y="115.44" width="8.34" height="9.51" fill="#758fff"/>
<rect shape-rendering="crispEdges" x="568.51" y="115.44" width="8.34" height="9.51" fill="#4367ff"/>
<rect shape-rendering="crispEdges" x="576.79" y="115.44" width="8.34" height="9.51" fill="#8ea4ff"/>
<rect shape-rendering="crispEdges" x="585.07" y="115.44" width="8.34" height="9.51" fill="#ee7477"/>
<rect shape-rendering="crispEdges" x="593.34" y="115.44" width="8.34" height="9.51" fill="#f8c5c6"/>
<rect shape-rendering="crispEdges" x="601.62" y="115.44" width="8.34" height="9.51" fill="#f29799"/>
<text x="613.8" y="123.69"  font-size="8.3" fill="#111" >O-phosphoethanolamine</text>
<rect shape-rendering="crispEdges" x="535.4" y="124.88" width="8.34" height="9.51" fill="#fbdcdd"/>
<rect shape-rendering="crispEdges" x="543.68" y="124.88" width="8.34" height="9.51" fill="#f5aeb0"/>
<rect shape-rendering="crispEdges" x="551.96" y="124.88" width="8.34" height="9.51" fill="#fad7d7"/>
<rect shape-rendering="crispEdges" x="560.23" y="124.88" width="8.34" height="9.51" fill="#0434ff"/>
<rect shape-rendering="crispEdges" x="568.51" y="124.88" width="8.34" height="9.51" fill="#4367ff"/>
<rect shape-rendering="crispEdges" x="576.79" y="124.88" width="8.34" height="9.51" fill="#5c7bff"/>
<rect shape-rendering="crispEdges" x="585.07" y="124.88" width="8.34" height="9.51" fill="#f9d1d2"/>
<rect shape-rendering="crispEdges" x="593.34" y="124.88" width="8.34" height="9.51" fill="#fbdcdd"/>
<rect shape-rendering="crispEdges" x="601.62" y="124.88" width="8.34" height="9.51" fill="#f6babb"/>
<text x="613.8" y="133.11"  font-size="8.3" fill="#111" >Proline</text>
<rect shape-rendering="crispEdges" x="535.4" y="134.33" width="8.34" height="9.51" fill="#f9d1d2"/>
<rect shape-rendering="crispEdges" x="543.68" y="134.33" width="8.34" height="9.51" fill="#fce8e8"/>
<rect shape-rendering="crispEdges" x="551.96" y="134.33" width="8.34" height="9.51" fill="#fef3f4"/>
<rect shape-rendering="crispEdges" x="560.23" y="134.33" width="8.34" height="9.51" fill="#f6babb"/>
<rect shape-rendering="crispEdges" x="568.51" y="134.33" width="8.34" height="9.51" fill="#0434ff"/>
<rect shape-rendering="crispEdges" x="576.79" y="134.33" width="8.34" height="9.51" fill="#a7b8ff"/>
<rect shape-rendering="crispEdges" x="585.07" y="134.33" width="8.34" height="9.51" fill="#f8c5c6"/>
<rect shape-rendering="crispEdges" x="593.34" y="134.33" width="8.34" height="9.51" fill="#f8c5c6"/>
<rect shape-rendering="crispEdges" x="601.62" y="134.33" width="8.34" height="9.51" fill="#829aff"/>
<text x="613.8" y="142.53"  font-size="8.3" fill="#111" >Succinate semialdehyde</text>
<rect shape-rendering="crispEdges" x="535.4" y="143.78" width="8.34" height="9.51" fill="#fce8e8"/>
<rect shape-rendering="crispEdges" x="543.68" y="143.78" width="8.34" height="9.51" fill="#f2f5ff"/>
<rect shape-rendering="crispEdges" x="551.96" y="143.78" width="8.34" height="9.51" fill="#8ea4ff"/>
<rect shape-rendering="crispEdges" x="560.23" y="143.78" width="8.34" height="9.51" fill="#fdeeee"/>
<rect shape-rendering="crispEdges" x="568.51" y="143.78" width="8.34" height="9.51" fill="#9baeff"/>
<rect shape-rendering="crispEdges" x="576.79" y="143.78" width="8.34" height="9.51" fill="#8ea4ff"/>
<rect shape-rendering="crispEdges" x="585.07" y="143.78" width="8.34" height="9.51" fill="#e32427"/>
<rect shape-rendering="crispEdges" x="593.34" y="143.78" width="8.34" height="9.51" fill="#a7b8ff"/>
<rect shape-rendering="crispEdges" x="601.62" y="143.78" width="8.34" height="9.51" fill="#f2f5ff"/>
<text x="613.8" y="151.95"  font-size="8.3" fill="#111" >Succinate</text>
<rect shape-rendering="crispEdges" x="535.4" y="153.23" width="8.34" height="9.51" fill="#2a52ff"/>
<rect shape-rendering="crispEdges" x="543.68" y="153.23" width="8.34" height="9.51" fill="#f9faff"/>
<rect shape-rendering="crispEdges" x="551.96" y="153.23" width="8.34" height="9.51" fill="#f3a3a4"/>
<rect shape-rendering="crispEdges" x="560.23" y="153.23" width="8.34" height="9.51" fill="#4367ff"/>
<rect shape-rendering="crispEdges" x="568.51" y="153.23" width="8.34" height="9.51" fill="#b4c2ff"/>
<rect shape-rendering="crispEdges" x="576.79" y="153.23" width="8.34" height="9.51" fill="#cdd6ff"/>
<rect shape-rendering="crispEdges" x="585.07" y="153.23" width="8.34" height="9.51" fill="#f9d1d2"/>
<rect shape-rendering="crispEdges" x="593.34" y="153.23" width="8.34" height="9.51" fill="#fef3f4"/>
<rect shape-rendering="crispEdges" x="601.62" y="153.23" width="8.34" height="9.51" fill="#ee7477"/>
<text x="613.8" y="161.37"  font-size="8.3" fill="#111" >CMP</text>
<rect shape-rendering="crispEdges" x="535.4" y="162.68" width="8.34" height="9.51" fill="#f9d1d2"/>
<rect shape-rendering="crispEdges" x="543.68" y="162.68" width="8.34" height="9.51" fill="#fbdcdd"/>
<rect shape-rendering="crispEdges" x="551.96" y="162.68" width="8.34" height="9.51" fill="#fce8e8"/>
<rect shape-rendering="crispEdges" x="560.23" y="162.68" width="8.34" height="9.51" fill="#f6babb"/>
<rect shape-rendering="crispEdges" x="568.51" y="162.68" width="8.34" height="9.51" fill="#0434ff"/>
<rect shape-rendering="crispEdges" x="576.79" y="162.68" width="8.34" height="9.51" fill="#a7b8ff"/>
<rect shape-rendering="crispEdges" x="585.07" y="162.68" width="8.34" height="9.51" fill="#f6babb"/>
<rect shape-rendering="crispEdges" x="593.34" y="162.68" width="8.34" height="9.51" fill="#f8c5c6"/>
<rect shape-rendering="crispEdges" x="601.62" y="162.68" width="8.34" height="9.51" fill="#829aff"/>
<text x="613.8" y="170.79"  font-size="8.3" fill="#111" >Oxoglutarate</text>
<rect shape-rendering="crispEdges" x="535.4" y="172.12" width="8.34" height="9.51" fill="#758fff"/>
<rect shape-rendering="crispEdges" x="543.68" y="172.12" width="8.34" height="9.51" fill="#ffffff"/>
<rect shape-rendering="crispEdges" x="551.96" y="172.12" width="8.34" height="9.51" fill="#f29799"/>
<rect shape-rendering="crispEdges" x="560.23" y="172.12" width="8.34" height="9.51" fill="#8ea4ff"/>
<rect shape-rendering="crispEdges" x="568.51" y="172.12" width="8.34" height="9.51" fill="#1d48ff"/>
<rect shape-rendering="crispEdges" x="576.79" y="172.12" width="8.34" height="9.51" fill="#fbdcdd"/>
<rect shape-rendering="crispEdges" x="585.07" y="172.12" width="8.34" height="9.51" fill="#a7b8ff"/>
<rect shape-rendering="crispEdges" x="593.34" y="172.12" width="8.34" height="9.51" fill="#f29799"/>
<rect shape-rendering="crispEdges" x="601.62" y="172.12" width="8.34" height="9.51" fill="#f6babb"/>
<text x="613.8" y="180.21"  font-size="8.3" fill="#111" >AMP</text>
<rect shape-rendering="crispEdges" x="535.4" y="181.57" width="8.34" height="9.51" fill="#ef8082"/>
<rect shape-rendering="crispEdges" x="543.68" y="181.57" width="8.34" height="9.51" fill="#ecf0ff"/>
<rect shape-rendering="crispEdges" x="551.96" y="181.57" width="8.34" height="9.51" fill="#8ea4ff"/>
<rect shape-rendering="crispEdges" x="560.23" y="181.57" width="8.34" height="9.51" fill="#ec696b"/>
<rect shape-rendering="crispEdges" x="568.51" y="181.57" width="8.34" height="9.51" fill="#c0ccff"/>
<rect shape-rendering="crispEdges" x="576.79" y="181.57" width="8.34" height="9.51" fill="#9baeff"/>
<rect shape-rendering="crispEdges" x="585.07" y="181.57" width="8.34" height="9.51" fill="#f8cbcc"/>
<rect shape-rendering="crispEdges" x="593.34" y="181.57" width="8.34" height="9.51" fill="#829aff"/>
<rect shape-rendering="crispEdges" x="601.62" y="181.57" width="8.34" height="9.51" fill="#829aff"/>
<text x="613.8" y="189.63"  font-size="8.3" fill="#111" >cis-Aconitic acid</text>
<rect shape-rendering="crispEdges" x="535.4" y="191.02" width="8.34" height="9.51" fill="#f3a3a4"/>
<rect shape-rendering="crispEdges" x="543.68" y="191.02" width="8.34" height="9.51" fill="#ef8082"/>
<rect shape-rendering="crispEdges" x="551.96" y="191.02" width="8.34" height="9.51" fill="#a7b8ff"/>
<rect shape-rendering="crispEdges" x="560.23" y="191.02" width="8.34" height="9.51" fill="#f9d1d2"/>
<rect shape-rendering="crispEdges" x="568.51" y="191.02" width="8.34" height="9.51" fill="#f2f5ff"/>
<rect shape-rendering="crispEdges" x="576.79" y="191.02" width="8.34" height="9.51" fill="#4f71ff"/>
<rect shape-rendering="crispEdges" x="585.07" y="191.02" width="8.34" height="9.51" fill="#fad7d7"/>
<rect shape-rendering="crispEdges" x="593.34" y="191.02" width="8.34" height="9.51" fill="#2a52ff"/>
<rect shape-rendering="crispEdges" x="601.62" y="191.02" width="8.34" height="9.51" fill="#d9e1ff"/>
<text x="613.8" y="199.05"  font-size="8.3" fill="#111" >Fumaric acid</text>
<rect shape-rendering="crispEdges" x="535.4" y="200.47" width="8.34" height="9.51" fill="#829aff"/>
<rect shape-rendering="crispEdges" x="543.68" y="200.47" width="8.34" height="9.51" fill="#a7b8ff"/>
<rect shape-rendering="crispEdges" x="551.96" y="200.47" width="8.34" height="9.51" fill="#4f71ff"/>
<rect shape-rendering="crispEdges" x="560.23" y="200.47" width="8.34" height="9.51" fill="#cdd6ff"/>
<rect shape-rendering="crispEdges" x="568.51" y="200.47" width="8.34" height="9.51" fill="#ffffff"/>
<rect shape-rendering="crispEdges" x="576.79" y="200.47" width="8.34" height="9.51" fill="#cdd6ff"/>
<rect shape-rendering="crispEdges" x="585.07" y="200.47" width="8.34" height="9.51" fill="#e84649"/>
<rect shape-rendering="crispEdges" x="593.34" y="200.47" width="8.34" height="9.51" fill="#f9d1d2"/>
<rect shape-rendering="crispEdges" x="601.62" y="200.47" width="8.34" height="9.51" fill="#f5aeb0"/>
<text x="613.8" y="208.47"  font-size="8.3" fill="#111" >Glutaric acid</text>
<rect shape-rendering="crispEdges" x="535.4" y="209.92" width="8.34" height="9.51" fill="#1d48ff"/>
<rect shape-rendering="crispEdges" x="543.68" y="209.92" width="8.34" height="9.51" fill="#ecf0ff"/>
<rect shape-rendering="crispEdges" x="551.96" y="209.92" width="8.34" height="9.51" fill="#ef8082"/>
<rect shape-rendering="crispEdges" x="560.23" y="209.92" width="8.34" height="9.51" fill="#365dff"/>
<rect shape-rendering="crispEdges" x="568.51" y="209.92" width="8.34" height="9.51" fill="#e0e6ff"/>
<rect shape-rendering="crispEdges" x="576.79" y="209.92" width="8.34" height="9.51" fill="#fdeeee"/>
<rect shape-rendering="crispEdges" x="585.07" y="209.92" width="8.34" height="9.51" fill="#c7d1ff"/>
<rect shape-rendering="crispEdges" x="593.34" y="209.92" width="8.34" height="9.51" fill="#f6babb"/>
<rect shape-rendering="crispEdges" x="601.62" y="209.92" width="8.34" height="9.51" fill="#f5aeb0"/>
<text x="613.8" y="217.89"  font-size="8.3" fill="#111" >GMP</text>
<rect shape-rendering="crispEdges" x="535.4" y="219.36" width="8.34" height="9.51" fill="#ef8082"/>
<rect shape-rendering="crispEdges" x="543.68" y="219.36" width="8.34" height="9.51" fill="#fbdcdd"/>
<rect shape-rendering="crispEdges" x="551.96" y="219.36" width="8.34" height="9.51" fill="#8ea4ff"/>
<rect shape-rendering="crispEdges" x="560.23" y="219.36" width="8.34" height="9.51" fill="#ef8082"/>
<rect shape-rendering="crispEdges" x="568.51" y="219.36" width="8.34" height="9.51" fill="#e6ebff"/>
<rect shape-rendering="crispEdges" x="576.79" y="219.36" width="8.34" height="9.51" fill="#6885ff"/>
<rect shape-rendering="crispEdges" x="585.07" y="219.36" width="8.34" height="9.51" fill="#f8c5c6"/>
<rect shape-rendering="crispEdges" x="593.34" y="219.36" width="8.34" height="9.51" fill="#8ea4ff"/>
<rect shape-rendering="crispEdges" x="601.62" y="219.36" width="8.34" height="9.51" fill="#758fff"/>
<text x="613.8" y="227.31"  font-size="8.3" fill="#111" >Isocitrate</text>
<rect shape-rendering="crispEdges" x="535.4" y="228.81" width="8.34" height="9.51" fill="#f08c8e"/>
<rect shape-rendering="crispEdges" x="543.68" y="228.81" width="8.34" height="9.51" fill="#ef8082"/>
<rect shape-rendering="crispEdges" x="551.96" y="228.81" width="8.34" height="9.51" fill="#fce8e8"/>
<rect shape-rendering="crispEdges" x="560.23" y="228.81" width="8.34" height="9.51" fill="#fbdcdd"/>
<rect shape-rendering="crispEdges" x="568.51" y="228.81" width="8.34" height="9.51" fill="#ecf0ff"/>
<rect shape-rendering="crispEdges" x="576.79" y="228.81" width="8.34" height="9.51" fill="#9baeff"/>
<rect shape-rendering="crispEdges" x="585.07" y="228.81" width="8.34" height="9.51" fill="#d3dbff"/>
<rect shape-rendering="crispEdges" x="593.34" y="228.81" width="8.34" height="9.51" fill="#0434ff"/>
<rect shape-rendering="crispEdges" x="601.62" y="228.81" width="8.34" height="9.51" fill="#e6ebff"/>
<text x="613.8" y="236.73"  font-size="8.3" fill="#111" >L-malate</text>
<rect shape-rendering="crispEdges" x="535.4" y="238.26" width="8.34" height="9.51" fill="#ffffff"/>
<rect shape-rendering="crispEdges" x="543.68" y="238.26" width="8.34" height="9.51" fill="#d9e1ff"/>
<rect shape-rendering="crispEdges" x="551.96" y="238.26" width="8.34" height="9.51" fill="#a7b8ff"/>
<rect shape-rendering="crispEdges" x="560.23" y="238.26" width="8.34" height="9.51" fill="#a7b8ff"/>
<rect shape-rendering="crispEdges" x="568.51" y="238.26" width="8.34" height="9.51" fill="#a7b8ff"/>
<rect shape-rendering="crispEdges" x="576.79" y="238.26" width="8.34" height="9.51" fill="#4f71ff"/>
<rect shape-rendering="crispEdges" x="585.07" y="238.26" width="8.34" height="9.51" fill="#e52f33"/>
<rect shape-rendering="crispEdges" x="593.34" y="238.26" width="8.34" height="9.51" fill="#fad7d7"/>
<rect shape-rendering="crispEdges" x="601.62" y="238.26" width="8.34" height="9.51" fill="#f8cbcc"/>
<text x="613.8" y="246.15"  font-size="8.3" fill="#111" >N-acetyl-L-aspartate</text>
<rect shape-rendering="crispEdges" x="535.4" y="247.71" width="8.34" height="9.51" fill="#ffffff"/>
<rect shape-rendering="crispEdges" x="543.68" y="247.71" width="8.34" height="9.51" fill="#cdd6ff"/>
<rect shape-rendering="crispEdges" x="551.96" y="247.71" width="8.34" height="9.51" fill="#758fff"/>
<rect shape-rendering="crispEdges" x="560.23" y="247.71" width="8.34" height="9.51" fill="#4367ff"/>
<rect shape-rendering="crispEdges" x="568.51" y="247.71" width="8.34" height="9.51" fill="#e6ebff"/>
<rect shape-rendering="crispEdges" x="576.79" y="247.71" width="8.34" height="9.51" fill="#829aff"/>
<rect shape-rendering="crispEdges" x="585.07" y="247.71" width="8.34" height="9.51" fill="#ec696b"/>
<rect shape-rendering="crispEdges" x="593.34" y="247.71" width="8.34" height="9.51" fill="#f9d1d2"/>
<rect shape-rendering="crispEdges" x="601.62" y="247.71" width="8.34" height="9.51" fill="#f3a3a4"/>
<text x="613.8" y="255.57"  font-size="8.3" fill="#111" >Ribose-1-phosphate</text>
<rect shape-rendering="crispEdges" x="535.4" y="257.16" width="8.34" height="9.51" fill="#b4c2ff"/>
<rect shape-rendering="crispEdges" x="543.68" y="257.16" width="8.34" height="9.51" fill="#b4c2ff"/>
<rect shape-rendering="crispEdges" x="551.96" y="257.16" width="8.34" height="9.51" fill="#8ea4ff"/>
<rect shape-rendering="crispEdges" x="560.23" y="257.16" width="8.34" height="9.51" fill="#b4c2ff"/>
<rect shape-rendering="crispEdges" x="568.51" y="257.16" width="8.34" height="9.51" fill="#8ea4ff"/>
<rect shape-rendering="crispEdges" x="576.79" y="257.16" width="8.34" height="9.51" fill="#8ea4ff"/>
<rect shape-rendering="crispEdges" x="585.07" y="257.16" width="8.34" height="9.51" fill="#ee7477"/>
<rect shape-rendering="crispEdges" x="593.34" y="257.16" width="8.34" height="9.51" fill="#eb5d60"/>
<rect shape-rendering="crispEdges" x="601.62" y="257.16" width="8.34" height="9.51" fill="#f9d1d2"/>
<text x="613.8" y="264.99"  font-size="8.3" fill="#111" >Uric acid</text>
<rect shape-rendering="crispEdges" x="535.4" y="266.6" width="8.34" height="9.51" fill="#b4c2ff"/>
<rect shape-rendering="crispEdges" x="543.68" y="266.6" width="8.34" height="9.51" fill="#6885ff"/>
<rect shape-rendering="crispEdges" x="551.96" y="266.6" width="8.34" height="9.51" fill="#b4c2ff"/>
<rect shape-rendering="crispEdges" x="560.23" y="266.6" width="8.34" height="9.51" fill="#829aff"/>
<rect shape-rendering="crispEdges" x="568.51" y="266.6" width="8.34" height="9.51" fill="#e6ebff"/>
<rect shape-rendering="crispEdges" x="576.79" y="266.6" width="8.34" height="9.51" fill="#e6ebff"/>
<rect shape-rendering="crispEdges" x="585.07" y="266.6" width="8.34" height="9.51" fill="#f29799"/>
<rect shape-rendering="crispEdges" x="593.34" y="266.6" width="8.34" height="9.51" fill="#e84649"/>
<rect shape-rendering="crispEdges" x="601.62" y="266.6" width="8.34" height="9.51" fill="#f2f5ff"/>
<text x="613.8" y="274.41"  font-size="8.3" fill="#111" >Arginine</text>
<rect shape-rendering="crispEdges" x="535.4" y="276.05" width="8.34" height="9.51" fill="#fbdcdd"/>
<rect shape-rendering="crispEdges" x="543.68" y="276.05" width="8.34" height="9.51" fill="#f6babb"/>
<rect shape-rendering="crispEdges" x="551.96" y="276.05" width="8.34" height="9.51" fill="#f5aeb0"/>
<rect shape-rendering="crispEdges" x="560.23" y="276.05" width="8.34" height="9.51" fill="#f5aeb0"/>
<rect shape-rendering="crispEdges" x="568.51" y="276.05" width="8.34" height="9.51" fill="#fffdfd"/>
<rect shape-rendering="crispEdges" x="576.79" y="276.05" width="8.34" height="9.51" fill="#fce8e8"/>
<rect shape-rendering="crispEdges" x="585.07" y="276.05" width="8.34" height="9.51" fill="#365dff"/>
<rect shape-rendering="crispEdges" x="593.34" y="276.05" width="8.34" height="9.51" fill="#0434ff"/>
<rect shape-rendering="crispEdges" x="601.62" y="276.05" width="8.34" height="9.51" fill="#b4c2ff"/>
<text x="613.8" y="283.83"  font-size="8.3" fill="#111" >Hypotaurine</text>
<rect x="610.3" y="50.0" width="41.5" height="19.2" fill="none" stroke="#e91c24" stroke-width="1.25"/>
<rect x="535.7" y="290.7" width="25.2" height="2" fill="#000"/>
<rect x="561.9" y="290.7" width="25.2" height="2" fill="#000"/>
<rect x="588.1" y="290.7" width="25.2" height="2" fill="#000"/>
<text x="312.3" y="43.2"  font-size="11.85" fill="#111" >Whole Cell Metabolites</text>
<text x="534.4" y="43.2"  font-size="11.85" fill="#111" >Mitochondrial Metabolites</text>
<text x="311" y="301.2"  font-size="6.8" fill="#111" >Control</text>
<text x="337" y="301.2"  font-size="6.8" fill="#111" >Tug1-KD</text>
<text x="368" y="301.2"  font-size="6.8" fill="#111" >Tug1-KD/</text>
<text x="368" y="309"  font-size="6.8" fill="#111" >Pgc1-OE</text>
<text x="535.1" y="301"  font-size="6.8" fill="#111" >Control</text>
<text x="561.3" y="301"  font-size="6.8" fill="#111" >Tug1-KD</text>
<text x="592" y="301"  font-size="6.8" fill="#111" >Tug1-KD/</text>
<text x="592" y="308.8"  font-size="6.8" fill="#111" >Pgc1-OE</text>
<defs><linearGradient id="cb" x1="0" x2="1" y1="0" y2="0"><stop offset="0" stop-color="#0a2cff"/><stop offset="0.5" stop-color="#ffffff"/><stop offset="1" stop-color="#e3262c"/></linearGradient></defs>
<rect x="466" y="18.6" width="38.8" height="10.6" fill="url(#cb)" stroke="#222" stroke-width="0.7"/>
<rect x="468.15" y="29.2" width="0.9" height="3.3" fill="#111"/>
<rect x="485.05" y="29.2" width="0.9" height="3.3" fill="#111"/>
<rect x="503.05" y="29.2" width="0.9" height="3.3" fill="#111"/>
<text x="468" y="42.4"  font-size="8.8" font-weight="bold" text-anchor="middle" fill="#000" >-2</text>
<text x="485.5" y="42.4"  font-size="8.8" font-weight="bold" text-anchor="middle" fill="#000" >0</text>
<text x="503.8" y="42.4"  font-size="8.8" font-weight="bold" text-anchor="middle" fill="#000" >2</text>
</g>
<g id="panelC">
<text x="294.5" y="352.2"  font-size="14.5" font-weight="bold" fill="#000" >C</text>
<rect x="349" y="376.9" width="1" height="153.5" fill="#d0d0d0"/>
<rect x="370" y="376.9" width="1" height="153.5" fill="#d0d0d0"/>
<rect x="391" y="376.9" width="1" height="153.5" fill="#d0d0d0"/>
<rect x="412" y="376.9" width="1" height="153.5" fill="#d0d0d0"/>
<rect x="433" y="376.9" width="1" height="153.5" fill="#d0d0d0"/>
<rect x="454" y="376.9" width="1" height="153.5" fill="#d0d0d0"/>
<rect x="475" y="376.9" width="1" height="153.5" fill="#d0d0d0"/>
<rect x="328.3" y="479" width="168.6" height="1" fill="#d0d0d0"/>
<rect x="328.3" y="428" width="168.6" height="1" fill="#d0d0d0"/>
<line x1="399.95" y1="376.9" x2="399.95" y2="530.4" stroke="#f73d41" stroke-width="1.1" stroke-dasharray="1.7 1.3"/>
<line x1="425.25" y1="376.9" x2="425.25" y2="530.4" stroke="#f73d41" stroke-width="1.1" stroke-dasharray="1.7 1.3"/>
<line x1="328.3" y1="497.4" x2="496.9" y2="497.4" stroke="#f73d41" stroke-width="1.1" stroke-dasharray="1.7 1.3"/>
<circle cx="402.4" cy="453.5" r="1.55" fill="#1cb4fb"/>
<circle cx="405" cy="475.5" r="1.55" fill="#1cb4fb"/>
<circle cx="403.2" cy="483.3" r="1.55" fill="#1cb4fb"/>
<circle cx="402.4" cy="485.1" r="1.55" fill="#1cb4fb"/>
<circle cx="406.1" cy="486.3" r="1.55" fill="#1cb4fb"/>
<circle cx="417.8" cy="483.6" r="1.55" fill="#1cb4fb"/>
<circle cx="420.2" cy="486.3" r="1.55" fill="#1cb4fb"/>
<circle cx="406.1" cy="492.6" r="1.55" fill="#1cb4fb"/>
<circle cx="384.9" cy="500.6" r="1.55" fill="#1cb4fb"/>
<circle cx="386.6" cy="499.9" r="1.55" fill="#1cb4fb"/>
<circle cx="398.5" cy="500.9" r="1.55" fill="#1cb4fb"/>
<circle cx="391.3" cy="505.5" r="1.55" fill="#1cb4fb"/>
<circle cx="403.6" cy="505.2" r="1.55" fill="#1cb4fb"/>
<circle cx="419.3" cy="506.2" r="1.55" fill="#1cb4fb"/>
<circle cx="396.3" cy="509" r="1.55" fill="#1cb4fb"/>
<circle cx="398.1" cy="509" r="1.55" fill="#1cb4fb"/>
<circle cx="395.3" cy="510.7" r="1.55" fill="#1cb4fb"/>
<circle cx="406.3" cy="510.2" r="1.55" fill="#1cb4fb"/>
<circle cx="400.4" cy="512.4" r="1.55" fill="#1cb4fb"/>
<circle cx="397.3" cy="513.5" r="1.55" fill="#1cb4fb"/>
<circle cx="408.1" cy="513.1" r="1.55" fill="#1cb4fb"/>
<circle cx="393" cy="515" r="1.55" fill="#1cb4fb"/>
<circle cx="407" cy="515.2" r="1.55" fill="#1cb4fb"/>
<circle cx="417.1" cy="514.5" r="1.55" fill="#1cb4fb"/>
<circle cx="415.7" cy="519.3" r="1.55" fill="#1cb4fb"/>
<circle cx="400.9" cy="520.7" r="1.55" fill="#1cb4fb"/>
<circle cx="402.9" cy="521.4" r="1.55" fill="#1cb4fb"/>
<circle cx="405.7" cy="521" r="1.55" fill="#1cb4fb"/>
<circle cx="408.8" cy="521" r="1.55" fill="#1cb4fb"/>
<circle cx="396.3" cy="525.6" r="1.55" fill="#1cb4fb"/>
<circle cx="396.6" cy="526.7" r="1.55" fill="#1cb4fb"/>
<circle cx="403.2" cy="526.7" r="1.55" fill="#1cb4fb"/>
<circle cx="406.7" cy="524.2" r="1.55" fill="#1cb4fb"/>
<circle cx="408.1" cy="526.3" r="1.55" fill="#1cb4fb"/>
<circle cx="421.5" cy="471.8" r="1.55" fill="#1cb4fb"/>
<circle cx="422.9" cy="471.5" r="1.55" fill="#1cb4fb"/>
<circle cx="422.9" cy="474.5" r="1.55" fill="#1cb4fb"/>
<circle cx="422.6" cy="498.1" r="1.55" fill="#1cb4fb"/>
<circle cx="424.3" cy="499.2" r="1.55" fill="#1cb4fb"/>
<circle cx="420.8" cy="508.9" r="1.55" fill="#1cb4fb"/>
<circle cx="421.9" cy="511" r="1.55" fill="#1cb4fb"/>
<circle cx="432.5" cy="506.4" r="1.55" fill="#1cb4fb"/>
<circle cx="432.3" cy="512.7" r="1.55" fill="#1cb4fb"/>
<circle cx="431.1" cy="518.5" r="1.55" fill="#1cb4fb"/>
<circle cx="417.5" cy="513.8" r="1.55" fill="#1cb4fb"/>
<circle cx="416" cy="515.5" r="1.55" fill="#1cb4fb"/>
<circle cx="417.3" cy="517.7" r="1.55" fill="#1cb4fb"/>
<circle cx="419.4" cy="518" r="1.55" fill="#1cb4fb"/>
<circle cx="422.2" cy="518.7" r="1.55" fill="#1cb4fb"/>
<circle cx="424.3" cy="517.3" r="1.55" fill="#1cb4fb"/>
<circle cx="415.3" cy="519.3" r="1.55" fill="#1cb4fb"/>
<circle cx="418" cy="522.1" r="1.55" fill="#1cb4fb"/>
<circle cx="420.8" cy="522.8" r="1.55" fill="#1cb4fb"/>
<circle cx="426.1" cy="523.5" r="1.55" fill="#1cb4fb"/>
<circle cx="424.7" cy="525.6" r="1.55" fill="#1cb4fb"/>
<circle cx="416.6" cy="524.9" r="1.55" fill="#1cb4fb"/>
<circle cx="428" cy="530" r="1.55" fill="#1cb4fb"/>
<circle cx="409.5" cy="523.5" r="1.55" fill="#1cb4fb"/>
<circle cx="410.3" cy="526" r="1.55" fill="#1cb4fb"/>
<circle cx="414.6" cy="522" r="1.55" fill="#1cb4fb"/>
<circle cx="413.8" cy="525.5" r="1.55" fill="#1cb4fb"/>
<circle cx="343.3" cy="417.4" r="1.55" fill="#0cc414"/>
<circle cx="391.4" cy="432.8" r="1.55" fill="#0cc414"/>
<circle cx="395.2" cy="434.4" r="1.55" fill="#0cc414"/>
<circle cx="398.8" cy="444.5" r="1.55" fill="#0cc414"/>
<circle cx="391.2" cy="457" r="1.55" fill="#0cc414"/>
<circle cx="390.5" cy="464.3" r="1.55" fill="#0cc414"/>
<circle cx="391" cy="468" r="1.55" fill="#0cc414"/>
<circle cx="396.4" cy="468.7" r="1.55" fill="#0cc414"/>
<circle cx="399.1" cy="475.5" r="1.55" fill="#0cc414"/>
<circle cx="400.9" cy="478.8" r="1.55" fill="#0cc414"/>
<circle cx="351.2" cy="480.8" r="1.55" fill="#0cc414"/>
<circle cx="387.8" cy="482.6" r="1.55" fill="#0cc414"/>
<circle cx="397.8" cy="484.1" r="1.55" fill="#0cc414"/>
<circle cx="375.8" cy="489.7" r="1.55" fill="#0cc414"/>
<circle cx="376.9" cy="489.7" r="1.55" fill="#0cc414"/>
<circle cx="383.4" cy="490.9" r="1.55" fill="#0cc414"/>
<circle cx="382.1" cy="493" r="1.55" fill="#0cc414"/>
<circle cx="384.4" cy="495.8" r="1.55" fill="#0cc414"/>
<circle cx="426.8" cy="459.7" r="1.55" fill="#f50f14"/>
<circle cx="425.2" cy="467.8" r="1.55" fill="#f50f14"/>
<circle cx="429.1" cy="467.6" r="1.55" fill="#f50f14"/>
<circle cx="428.4" cy="469" r="1.55" fill="#f50f14"/>
<circle cx="432.9" cy="472.2" r="1.55" fill="#f50f14"/>
<circle cx="426.6" cy="474" r="1.55" fill="#f50f14"/>
<circle cx="452.8" cy="466.4" r="1.55" fill="#f50f14"/>
<circle cx="459.1" cy="474.1" r="1.55" fill="#f50f14"/>
<circle cx="463.7" cy="482.3" r="1.55" fill="#f50f14"/>
<circle cx="438.7" cy="479.3" r="1.55" fill="#f50f14"/>
<circle cx="440.6" cy="484" r="1.55" fill="#f50f14"/>
<circle cx="429.8" cy="485.1" r="1.55" fill="#f50f14"/>
<circle cx="427.7" cy="489.5" r="1.55" fill="#f50f14"/>
<circle cx="432.2" cy="491.3" r="1.55" fill="#f50f14"/>
<circle cx="431.2" cy="496" r="1.55" fill="#f50f14"/>
<circle cx="436.5" cy="497.3" r="1.55" fill="#f50f14"/>
<circle cx="442.6" cy="496.2" r="1.55" fill="#f50f14"/>
<circle cx="412.2" cy="527.58" r="1.55" fill="#1cb4fb"/>
<circle cx="412.33" cy="528.46" r="1.55" fill="#1cb4fb"/>
<circle cx="408.69" cy="525.06" r="1.55" fill="#1cb4fb"/>
<circle cx="416.18" cy="527.27" r="1.55" fill="#1cb4fb"/>
<circle cx="407.25" cy="522.34" r="1.55" fill="#1cb4fb"/>
<circle cx="406.48" cy="520.01" r="1.55" fill="#1cb4fb"/>
<circle cx="414.25" cy="528.01" r="1.55" fill="#1cb4fb"/>
<circle cx="406.04" cy="523.82" r="1.55" fill="#1cb4fb"/>
<circle cx="408.77" cy="527.28" r="1.55" fill="#1cb4fb"/>
<circle cx="412.31" cy="527.9" r="1.55" fill="#1cb4fb"/>
<circle cx="412.74" cy="528.76" r="1.55" fill="#1cb4fb"/>
<circle cx="414.36" cy="527.86" r="1.55" fill="#1cb4fb"/>
<circle cx="419.36" cy="519.38" r="1.55" fill="#1cb4fb"/>
<circle cx="414.97" cy="527.71" r="1.55" fill="#1cb4fb"/>
<circle cx="410.19" cy="526.97" r="1.55" fill="#1cb4fb"/>
<circle cx="411.62" cy="527.99" r="1.55" fill="#1cb4fb"/>
<circle cx="418.72" cy="522.79" r="1.55" fill="#1cb4fb"/>
<circle cx="409.06" cy="524.62" r="1.55" fill="#1cb4fb"/>
<circle cx="419.08" cy="524.54" r="1.55" fill="#1cb4fb"/>
<circle cx="413.94" cy="527.9" r="1.55" fill="#1cb4fb"/>
<circle cx="407.2" cy="523.74" r="1.55" fill="#1cb4fb"/>
<circle cx="415.67" cy="527.63" r="1.55" fill="#1cb4fb"/>
<circle cx="407.41" cy="525.4" r="1.55" fill="#1cb4fb"/>
<circle cx="408.58" cy="525.21" r="1.55" fill="#1cb4fb"/>
<circle cx="408.78" cy="525.56" r="1.55" fill="#1cb4fb"/>
<circle cx="414.12" cy="528.17" r="1.55" fill="#1cb4fb"/>
<circle cx="409.11" cy="525.36" r="1.55" fill="#1cb4fb"/>
<circle cx="416.33" cy="525.28" r="1.55" fill="#1cb4fb"/>
<circle cx="409.07" cy="525.24" r="1.55" fill="#1cb4fb"/>
<circle cx="414.1" cy="526.95" r="1.55" fill="#1cb4fb"/>
<circle cx="409.11" cy="525.83" r="1.55" fill="#1cb4fb"/>
<circle cx="410.72" cy="528.46" r="1.55" fill="#1cb4fb"/>
<circle cx="407.24" cy="524.29" r="1.55" fill="#1cb4fb"/>
<circle cx="413.6" cy="528.2" r="1.55" fill="#1cb4fb"/>
<circle cx="418.74" cy="523.29" r="1.55" fill="#1cb4fb"/>
<circle cx="417.28" cy="526.63" r="1.55" fill="#1cb4fb"/>
<path d="M485.9 394.9 l1.7 2.6 h-3.4z" fill="#f50f14"/>
<path d="M460.3 426.1 l1.7 2.6 h-3.4z" fill="#f50f14"/>
<rect x="328" y="376.6" width="1" height="154.3" fill="#1c1c1c"/>
<rect x="328" y="530" width="169.6" height="1" fill="#1c1c1c"/>
<rect x="326.3" y="529.9" width="1.6" height="1" fill="#222"/>
<text x="325.7" y="533.4"  font-size="8.5" text-anchor="end" fill="#111" >0</text>
<rect x="326.3" y="478.73" width="1.6" height="1" fill="#222"/>
<text x="325.7" y="482.23"  font-size="8.5" text-anchor="end" fill="#111" >2</text>
<rect x="326.3" y="427.57" width="1.6" height="1" fill="#222"/>
<text x="325.7" y="431.07"  font-size="8.5" text-anchor="end" fill="#111" >4</text>
<rect x="326.3" y="376.4" width="1.6" height="1" fill="#222"/>
<text x="325.7" y="379.9"  font-size="8.5" text-anchor="end" fill="#111" >6</text>
<rect x="327.8" y="530.4" width="1" height="2" fill="#222"/>
<text x="327.1" y="542.4"  font-size="8.5" text-anchor="middle" fill="#111" >-4</text>
<rect x="369.95" y="530.4" width="1" height="2" fill="#222"/>
<text x="369.25" y="542.4"  font-size="8.5" text-anchor="middle" fill="#111" >-2</text>
<rect x="412.1" y="530.4" width="1" height="2" fill="#222"/>
<text x="412.6" y="542.4"  font-size="8.5" text-anchor="middle" fill="#111" >0</text>
<rect x="454.25" y="530.4" width="1" height="2" fill="#222"/>
<text x="454.75" y="542.4"  font-size="8.5" text-anchor="middle" fill="#111" >2</text>
<rect x="496.4" y="530.4" width="1" height="2" fill="#222"/>
<text x="496.9" y="542.4"  font-size="8.5" text-anchor="middle" fill="#111" >4</text>
<text x="455.8" y="390.8"  font-size="9.3" fill="#111" >Citrulline</text>
<text x="439.1" y="420.6"  font-size="9.3" fill="#111" >Ornithine</text>
<text x="411" y="351.9" text-anchor="middle" font-size="11.95" fill="#111">Tug1-KD <tspan font-style="italic">vs</tspan> Control</text>
<text x="414.5" y="559.7" text-anchor="middle" font-size="11.8" fill="#111">log<tspan font-size="7" dy="2.6">2</tspan><tspan dy="-2.6">FC</tspan></text>
<text transform="translate(307.7 453.35) rotate(-90)" text-anchor="middle" font-size="12.5" fill="#111">-log<tspan font-size="7.4" dy="2.7">10</tspan><tspan dy="-2.7">(p.adj)</tspan></text>
<rect x="547" y="375.1" width="1" height="156" fill="#d0d0d0"/>
<rect x="569" y="375.1" width="1" height="156" fill="#d0d0d0"/>
<rect x="590" y="375.1" width="1" height="156" fill="#d0d0d0"/>
<rect x="612" y="375.1" width="1" height="156" fill="#d0d0d0"/>
<rect x="633" y="375.1" width="1" height="156" fill="#d0d0d0"/>
<rect x="655" y="375.1" width="1" height="156" fill="#d0d0d0"/>
<rect x="676" y="375.1" width="1" height="156" fill="#d0d0d0"/>
<rect x="526.4" y="479" width="171.7" height="1" fill="#d0d0d0"/>
<rect x="526.4" y="427" width="171.7" height="1" fill="#d0d0d0"/>
<line x1="599.37" y1="375.1" x2="599.37" y2="531.1" stroke="#f73d41" stroke-width="1.1" stroke-dasharray="1.7 1.3"/>
<line x1="625.13" y1="375.1" x2="625.13" y2="531.1" stroke="#f73d41" stroke-width="1.1" stroke-dasharray="1.7 1.3"/>
<line x1="526.4" y1="497.56" x2="698.1" y2="497.56" stroke="#f73d41" stroke-width="1.1" stroke-dasharray="1.7 1.3"/>
<circle cx="603.5" cy="457.9" r="1.55" fill="#1cb4fb"/>
<circle cx="600.3" cy="474.5" r="1.55" fill="#1cb4fb"/>
<circle cx="600.7" cy="484" r="1.55" fill="#1cb4fb"/>
<circle cx="602.1" cy="490.5" r="1.55" fill="#1cb4fb"/>
<circle cx="601.3" cy="492.3" r="1.55" fill="#1cb4fb"/>
<circle cx="603.2" cy="493.7" r="1.55" fill="#1cb4fb"/>
<circle cx="599.6" cy="496.2" r="1.55" fill="#1cb4fb"/>
<circle cx="573.3" cy="509.1" r="1.55" fill="#1cb4fb"/>
<circle cx="606.1" cy="498.3" r="1.55" fill="#1cb4fb"/>
<circle cx="605.4" cy="501.6" r="1.55" fill="#1cb4fb"/>
<circle cx="602.4" cy="505.8" r="1.55" fill="#1cb4fb"/>
<circle cx="606.3" cy="506.9" r="1.55" fill="#1cb4fb"/>
<circle cx="607.6" cy="510.3" r="1.55" fill="#1cb4fb"/>
<circle cx="605.4" cy="512" r="1.55" fill="#1cb4fb"/>
<circle cx="614.6" cy="515.2" r="1.55" fill="#1cb4fb"/>
<circle cx="607.9" cy="516.9" r="1.55" fill="#1cb4fb"/>
<circle cx="606.8" cy="518.9" r="1.55" fill="#1cb4fb"/>
<circle cx="604.5" cy="521" r="1.55" fill="#1cb4fb"/>
<circle cx="605.8" cy="522.1" r="1.55" fill="#1cb4fb"/>
<circle cx="608.2" cy="522.4" r="1.55" fill="#1cb4fb"/>
<circle cx="604.9" cy="523.2" r="1.55" fill="#1cb4fb"/>
<circle cx="606.5" cy="525.5" r="1.55" fill="#1cb4fb"/>
<circle cx="607.8" cy="527" r="1.55" fill="#1cb4fb"/>
<circle cx="609.2" cy="528.4" r="1.55" fill="#1cb4fb"/>
<circle cx="619.4" cy="490.2" r="1.55" fill="#1cb4fb"/>
<circle cx="621.9" cy="489.9" r="1.55" fill="#1cb4fb"/>
<circle cx="617.6" cy="493.3" r="1.55" fill="#1cb4fb"/>
<circle cx="624.3" cy="497.4" r="1.55" fill="#1cb4fb"/>
<circle cx="658" cy="498.5" r="1.55" fill="#1cb4fb"/>
<circle cx="621.5" cy="501.3" r="1.55" fill="#1cb4fb"/>
<circle cx="620.8" cy="503" r="1.55" fill="#1cb4fb"/>
<circle cx="616.9" cy="502.4" r="1.55" fill="#1cb4fb"/>
<circle cx="619.4" cy="504.5" r="1.55" fill="#1cb4fb"/>
<circle cx="624.3" cy="506.9" r="1.55" fill="#1cb4fb"/>
<circle cx="629.4" cy="506.6" r="1.55" fill="#1cb4fb"/>
<circle cx="634.3" cy="506.9" r="1.55" fill="#1cb4fb"/>
<circle cx="636.8" cy="506.5" r="1.55" fill="#1cb4fb"/>
<circle cx="638.1" cy="508.3" r="1.55" fill="#1cb4fb"/>
<circle cx="641.6" cy="506.6" r="1.55" fill="#1cb4fb"/>
<circle cx="632.9" cy="510.6" r="1.55" fill="#1cb4fb"/>
<circle cx="616.6" cy="509" r="1.55" fill="#1cb4fb"/>
<circle cx="620.1" cy="510.3" r="1.55" fill="#1cb4fb"/>
<circle cx="618.7" cy="512" r="1.55" fill="#1cb4fb"/>
<circle cx="625" cy="510.6" r="1.55" fill="#1cb4fb"/>
<circle cx="623.6" cy="512" r="1.55" fill="#1cb4fb"/>
<circle cx="617.6" cy="513.8" r="1.55" fill="#1cb4fb"/>
<circle cx="615" cy="515.2" r="1.55" fill="#1cb4fb"/>
<circle cx="619.8" cy="516.9" r="1.55" fill="#1cb4fb"/>
<circle cx="621.5" cy="517.5" r="1.55" fill="#1cb4fb"/>
<circle cx="625.4" cy="517.3" r="1.55" fill="#1cb4fb"/>
<circle cx="616" cy="520" r="1.55" fill="#1cb4fb"/>
<circle cx="620.8" cy="520.7" r="1.55" fill="#1cb4fb"/>
<circle cx="637.4" cy="521.8" r="1.55" fill="#1cb4fb"/>
<circle cx="617.3" cy="522.1" r="1.55" fill="#1cb4fb"/>
<circle cx="622.2" cy="522.4" r="1.55" fill="#1cb4fb"/>
<circle cx="626.8" cy="523.2" r="1.55" fill="#1cb4fb"/>
<circle cx="618.4" cy="525.6" r="1.55" fill="#1cb4fb"/>
<circle cx="621.5" cy="525.6" r="1.55" fill="#1cb4fb"/>
<circle cx="616" cy="526.5" r="1.55" fill="#1cb4fb"/>
<circle cx="615" cy="523" r="1.55" fill="#1cb4fb"/>
<circle cx="609.8" cy="524" r="1.55" fill="#1cb4fb"/>
<circle cx="610.5" cy="520" r="1.55" fill="#1cb4fb"/>
<circle cx="575.1" cy="418.4" r="1.55" fill="#0cc414"/>
<circle cx="586.3" cy="450.6" r="1.55" fill="#0cc414"/>
<circle cx="587.1" cy="470.5" r="1.55" fill="#0cc414"/>
<circle cx="590.6" cy="470.1" r="1.55" fill="#0cc414"/>
<circle cx="579.9" cy="477.3" r="1.55" fill="#0cc414"/>
<circle cx="562.4" cy="480.4" r="1.55" fill="#0cc414"/>
<circle cx="586.3" cy="480.1" r="1.55" fill="#0cc414"/>
<circle cx="591.4" cy="491.1" r="1.55" fill="#0cc414"/>
<circle cx="584.6" cy="492.6" r="1.55" fill="#0cc414"/>
<circle cx="583.7" cy="497.2" r="1.55" fill="#0cc414"/>
<circle cx="627.5" cy="460.8" r="1.55" fill="#f50f14"/>
<circle cx="650.3" cy="459.8" r="1.55" fill="#f50f14"/>
<circle cx="645.6" cy="466.4" r="1.55" fill="#f50f14"/>
<circle cx="634.8" cy="468.4" r="1.55" fill="#f50f14"/>
<circle cx="642.4" cy="473.2" r="1.55" fill="#f50f14"/>
<circle cx="658.1" cy="472.5" r="1.55" fill="#f50f14"/>
<circle cx="634.5" cy="474.3" r="1.55" fill="#f50f14"/>
<circle cx="639.9" cy="478.4" r="1.55" fill="#f50f14"/>
<circle cx="630.8" cy="480.4" r="1.55" fill="#f50f14"/>
<circle cx="639.3" cy="481.9" r="1.55" fill="#f50f14"/>
<circle cx="641.6" cy="481.6" r="1.55" fill="#f50f14"/>
<circle cx="646" cy="482.6" r="1.55" fill="#f50f14"/>
<circle cx="651.3" cy="482.2" r="1.55" fill="#f50f14"/>
<circle cx="652.4" cy="484.3" r="1.55" fill="#f50f14"/>
<circle cx="639.3" cy="485" r="1.55" fill="#f50f14"/>
<circle cx="643.8" cy="485" r="1.55" fill="#f50f14"/>
<circle cx="644.7" cy="490.1" r="1.55" fill="#f50f14"/>
<circle cx="625" cy="488.4" r="1.55" fill="#f50f14"/>
<circle cx="627.6" cy="488.7" r="1.55" fill="#f50f14"/>
<circle cx="635.6" cy="494.1" r="1.55" fill="#f50f14"/>
<circle cx="629" cy="495.8" r="1.55" fill="#f50f14"/>
<circle cx="634.7" cy="379.4" r="1.55" fill="#f50f14"/>
<circle cx="645.3" cy="385.5" r="1.55" fill="#f50f14"/>
<circle cx="633.6" cy="389.3" r="1.55" fill="#f50f14"/>
<circle cx="629.7" cy="415.3" r="1.55" fill="#f50f14"/>
<circle cx="659.4" cy="417.2" r="1.55" fill="#f50f14"/>
<circle cx="686.1" cy="423.4" r="1.55" fill="#f50f14"/>
<circle cx="696.2" cy="436.5" r="1.55" fill="#f50f14"/>
<circle cx="629.7" cy="435.1" r="1.55" fill="#f50f14"/>
<circle cx="641.3" cy="441.9" r="1.55" fill="#f50f14"/>
<circle cx="645.6" cy="442" r="1.55" fill="#f50f14"/>
<circle cx="662.1" cy="441.2" r="1.55" fill="#f50f14"/>
<circle cx="648" cy="445.5" r="1.55" fill="#f50f14"/>
<circle cx="617.84" cy="521.7" r="1.55" fill="#1cb4fb"/>
<circle cx="606.79" cy="524.45" r="1.55" fill="#1cb4fb"/>
<circle cx="612.48" cy="530.14" r="1.55" fill="#1cb4fb"/>
<circle cx="611.76" cy="529.37" r="1.55" fill="#1cb4fb"/>
<circle cx="605.85" cy="525.5" r="1.55" fill="#1cb4fb"/>
<circle cx="611.51" cy="528.41" r="1.55" fill="#1cb4fb"/>
<circle cx="610.76" cy="528.16" r="1.55" fill="#1cb4fb"/>
<circle cx="613.11" cy="528.45" r="1.55" fill="#1cb4fb"/>
<circle cx="618.58" cy="524.03" r="1.55" fill="#1cb4fb"/>
<circle cx="610.88" cy="527.94" r="1.55" fill="#1cb4fb"/>
<circle cx="610.18" cy="528.48" r="1.55" fill="#1cb4fb"/>
<circle cx="614.76" cy="527.27" r="1.55" fill="#1cb4fb"/>
<circle cx="613.76" cy="529.33" r="1.55" fill="#1cb4fb"/>
<circle cx="610.3" cy="528.02" r="1.55" fill="#1cb4fb"/>
<circle cx="607.27" cy="527.73" r="1.55" fill="#1cb4fb"/>
<circle cx="609.65" cy="526.4" r="1.55" fill="#1cb4fb"/>
<circle cx="610.4" cy="528.59" r="1.55" fill="#1cb4fb"/>
<circle cx="610.05" cy="527.02" r="1.55" fill="#1cb4fb"/>
<circle cx="609.41" cy="527.31" r="1.55" fill="#1cb4fb"/>
<circle cx="614.61" cy="527.43" r="1.55" fill="#1cb4fb"/>
<circle cx="612.63" cy="528.92" r="1.55" fill="#1cb4fb"/>
<circle cx="618.17" cy="524.8" r="1.55" fill="#1cb4fb"/>
<circle cx="606.35" cy="525.74" r="1.55" fill="#1cb4fb"/>
<circle cx="616.08" cy="524.54" r="1.55" fill="#1cb4fb"/>
<circle cx="616.01" cy="524.78" r="1.55" fill="#1cb4fb"/>
<circle cx="618.86" cy="522.67" r="1.55" fill="#1cb4fb"/>
<circle cx="618.63" cy="525.16" r="1.55" fill="#1cb4fb"/>
<circle cx="606.67" cy="525.4" r="1.55" fill="#1cb4fb"/>
<circle cx="617.98" cy="523" r="1.55" fill="#1cb4fb"/>
<circle cx="607.1" cy="525.57" r="1.55" fill="#1cb4fb"/>
<circle cx="612.61" cy="529.72" r="1.55" fill="#1cb4fb"/>
<circle cx="611.52" cy="528.83" r="1.55" fill="#1cb4fb"/>
<circle cx="610.55" cy="526.85" r="1.55" fill="#1cb4fb"/>
<circle cx="617.38" cy="524.41" r="1.55" fill="#1cb4fb"/>
<circle cx="614.42" cy="526.77" r="1.55" fill="#1cb4fb"/>
<circle cx="609.12" cy="527.5" r="1.55" fill="#1cb4fb"/>
<path d="M534.7 395.2 l1.7 -2.6 h-3.4z" fill="#0cc414"/>
<path d="M583.5 445 l1.7 -2.6 h-3.4z" fill="#0cc414"/>
<rect x="526" y="374.8" width="1" height="156.8" fill="#1c1c1c"/>
<rect x="526" y="531" width="172.7" height="1" fill="#1c1c1c"/>
<rect x="524.4" y="530.6" width="1.6" height="1" fill="#222"/>
<text x="523.8" y="534.1"  font-size="8.5" text-anchor="end" fill="#111" >0</text>
<rect x="524.4" y="478.6" width="1.6" height="1" fill="#222"/>
<text x="523.8" y="482.1"  font-size="8.5" text-anchor="end" fill="#111" >2</text>
<rect x="524.4" y="426.6" width="1.6" height="1" fill="#222"/>
<text x="523.8" y="430.1"  font-size="8.5" text-anchor="end" fill="#111" >4</text>
<rect x="524.4" y="374.6" width="1.6" height="1" fill="#222"/>
<text x="523.8" y="378.1"  font-size="8.5" text-anchor="end" fill="#111" >6</text>
<rect x="525.9" y="531.1" width="1" height="2" fill="#222"/>
<text x="525.2" y="543.1"  font-size="8.5" text-anchor="middle" fill="#111" >-4</text>
<rect x="568.83" y="531.1" width="1" height="2" fill="#222"/>
<text x="568.12" y="543.1"  font-size="8.5" text-anchor="middle" fill="#111" >-2</text>
<rect x="611.75" y="531.1" width="1" height="2" fill="#222"/>
<text x="612.25" y="543.1"  font-size="8.5" text-anchor="middle" fill="#111" >0</text>
<rect x="654.67" y="531.1" width="1" height="2" fill="#222"/>
<text x="655.17" y="543.1"  font-size="8.5" text-anchor="middle" fill="#111" >2</text>
<rect x="697.6" y="531.1" width="1" height="2" fill="#222"/>
<text x="698.1" y="543.1"  font-size="8.5" text-anchor="middle" fill="#111" >4</text>
<text x="530" y="388.6"  font-size="9.3" fill="#111" >Citrulline</text>
<text x="555.5" y="437.4"  font-size="9.3" fill="#111" >Ornithine</text>
<text x="617.5" y="350.1" text-anchor="middle" font-size="11.95" fill="#111">Tug1-KD/Pgc1-OE <tspan font-style="italic">vs</tspan> Tug1-KD</text>
<text x="611.05" y="560.4" text-anchor="middle" font-size="11.8" fill="#111">log<tspan font-size="7" dy="2.6">2</tspan><tspan dy="-2.6">FC</tspan></text>
</g>
<g id="panelD">
<text x="5.3" y="596"  font-size="14" font-weight="bold" fill="#000" >D</text>
<defs>
<marker id="ah" markerUnits="userSpaceOnUse" markerWidth="13" markerHeight="10" viewBox="-10 -5 13 10" refX="0" refY="0" orient="auto"><path d="M0.4 0 L-7.2 -3.4 L-5.5 0 L-7.2 3.4Z" fill="#231f20"/></marker>
<marker id="ahb" markerUnits="userSpaceOnUse" markerWidth="14" markerHeight="12" viewBox="-11 -6 14 12" refX="0" refY="0" orient="auto"><path d="M0.4 0 L-8.6 -3.8 L-6.5 0 L-8.6 3.8Z" fill="#111"/></marker>
<marker id="ahr" markerUnits="userSpaceOnUse" markerWidth="14" markerHeight="10" viewBox="-11 -5 14 10" refX="0" refY="0" orient="auto"><path d="M0.4 0 L-9.4 -4.0 L-6.8 0 L-9.4 4.0Z" fill="#ed1c24"/></marker>
<marker id="aht" markerUnits="userSpaceOnUse" markerWidth="12" markerHeight="10" viewBox="-6 -5 12 10" refX="0" refY="0" orient="auto"><path d="M3 0 L-4 -2.9 L-4 2.9Z" fill="#000"/></marker>
<radialGradient id="glow" cx="0.5" cy="0.5" r="0.5">
<stop offset="0" stop-color="#f89db9"/><stop offset="0.25" stop-color="#f9adc4"/><stop offset="0.5" stop-color="#fbc9d8"/><stop offset="0.75" stop-color="#fee6ed"/><stop offset="1" stop-color="#ffffff"/>
</radialGradient>
</defs>
<ellipse cx="225.5" cy="746" rx="59" ry="48" fill="url(#glow)"/>
<path d="M42.3 684.6 C34.85 685.88 26.27 691.58 21.8 697.8 C17.33 704.02 16.27 713.12 15.5 721.9 C14.73 730.68 15.52 740.38 17.2 750.5 C18.88 760.62 21.73 772.2 25.6 782.6 C29.47 793 35 803.45 40.4 812.9 C45.8 822.35 51.57 831.58 58 839.3 C64.43 847.02 72.08 853.95 79 859.2 C85.92 864.45 92.8 868.6 99.5 870.8 C106.2 873 113.52 873.9 119.2 872.4 C124.88 870.9 130.15 866.37 133.6 861.8 C137.05 857.23 138.9 852.2 139.9 845 C140.9 837.8 140.67 827.4 139.6 818.6 C138.53 809.8 136.53 801.72 133.5 792.2 C130.47 782.68 126.33 771.75 121.4 761.5 C116.47 751.25 109.75 739.85 103.9 730.7 C98.05 721.55 92.53 713.37 86.3 706.6 C80.07 699.83 73.83 693.77 66.5 690.1 C59.17 686.43 49.75 683.32 42.3 684.6Z" fill="#e6f3e1" stroke="#c0c6bc" stroke-width="0.8"/>
<clipPath id="tcaclip"><circle cx="47.2" cy="759.9" r="23.6"/></clipPath>
<path d="M29.5 717.8 C29.42 717.15 29.53 717.27 31 715.9 C32.47 714.53 35.8 711.47 38.3 709.6 C40.8 707.73 42.77 705.68 46 704.7 C49.23 703.72 53.97 703.7 57.7 703.7 C61.43 703.7 65.48 703.72 68.4 704.7 C71.32 705.68 73.67 707.65 75.2 709.6 C76.73 711.55 77.6 714.13 77.6 716.4 C77.6 718.67 76.73 721.1 75.2 723.2 C73.67 725.3 70.83 727.23 68.4 729 C65.97 730.77 62.72 732.35 60.6 733.8 C58.48 735.25 57.8 736.08 55.7 737.7 C53.6 739.32 51.72 742.85 48 743.5 C44.28 744.15 35.18 742.73 33.4 741.6 C31.62 740.47 35.68 738.63 37.3 736.7 C38.92 734.77 41.72 732.25 43.1 730 C44.48 727.75 45.75 724.98 45.6 723.2 C45.45 721.42 44.55 719.87 42.2 719.3 C39.85 718.73 33.62 720.05 31.5 719.8 C29.38 719.55 29.58 718.45 29.5 717.8Z" fill="#fff" stroke="#c0c6bc" stroke-width="0.9"/>
<path d="M66.7 741.9 C68.52 739.17 72.98 738.3 75.4 736.6 C77.82 734.9 79.1 732.92 81.2 731.7 C83.3 730.48 85.73 729.47 88 729.3 C90.27 729.13 92.85 729.82 94.8 730.7 C96.75 731.58 98.32 733.05 99.7 734.6 C101.08 736.15 102.45 738.38 103.1 740 C103.75 741.62 104 742.93 103.6 744.3 C103.2 745.67 102.17 747.07 100.7 748.2 C99.23 749.33 96.92 749.97 94.8 751.1 C92.68 752.23 90.42 753.53 88 755 C85.58 756.47 83.05 758.2 80.3 759.9 C77.55 761.6 73.8 764.4 71.5 765.2 C69.2 766 67.67 766.73 66.5 764.7 C65.33 762.67 64.47 756.8 64.5 753 C64.53 749.2 64.88 744.63 66.7 741.9Z" fill="#fff" stroke="#c0c6bc" stroke-width="0.9"/>
<path d="M68.6 772.5 C70.17 774.38 72.65 776.33 75.4 777.3 C78.15 778.27 82.5 778.45 85.1 778.3 C87.7 778.15 89.53 777.7 91 776.4 C92.47 775.1 92.62 772.45 93.9 770.5 C95.18 768.55 96.6 766.23 98.7 764.7 C100.8 763.17 104.07 761.3 106.5 761.3 C108.93 761.3 111.85 763.17 113.3 764.7 C114.75 766.23 115.2 768.07 115.2 770.5 C115.2 772.93 114.43 776.87 113.3 779.3 C112.17 781.73 110.35 783.4 108.4 785.1 C106.45 786.8 103.83 788.27 101.6 789.5 C99.37 790.73 96.72 791.5 95 792.5 C93.28 793.5 92 794.58 91.3 795.5 C90.6 796.42 90.6 796.92 90.8 798 C91 799.08 91.83 801.03 92.5 802 C93.17 802.97 93.1 803.33 94.8 803.8 C96.5 804.27 100.4 805.47 102.7 804.8 C105 804.13 106.62 801.12 108.6 799.8 C110.58 798.48 112.45 797.07 114.6 796.9 C116.75 796.73 119.53 797.48 121.5 798.8 C123.47 800.12 125.08 802.15 126.4 804.8 C127.72 807.45 128.82 811.4 129.4 814.7 C129.98 818 129.98 820.98 129.9 824.6 C129.82 828.22 129.8 832.45 128.9 836.4 C128 840.35 126.57 845 124.5 848.3 C122.43 851.6 119.47 854.47 116.5 856.2 C113.53 857.93 109.67 858.7 106.7 858.7 C103.73 858.7 100.68 857.6 98.7 856.2 C96.72 854.8 95.28 852.28 94.8 850.3 C94.32 848.32 94.82 845.95 95.8 844.3 C96.78 842.65 98.88 841.72 100.7 840.4 C102.52 839.08 105.47 837.63 106.7 836.4 C107.93 835.17 108.55 832.93 108.1 833 C107.65 833.07 107.02 836.05 104 836.8 C100.98 837.55 94.33 837.5 90 837.5 C85.67 837.5 81.15 837.55 78 836.8 C74.85 836.05 73.07 834.93 71.1 833 C69.13 831.07 67.18 828.12 66.2 825.2 C65.22 822.28 64.72 818.58 65.2 815.5 C65.68 812.42 67.72 808.87 69.1 806.7 C70.48 804.53 72.12 803.55 73.5 802.5 C74.88 801.45 77.32 801.23 77.4 800.4 C77.48 799.57 75.38 797.73 74 797.5 C72.62 797.27 71.05 797.95 69.1 799 C67.15 800.05 64.72 803 62.3 803.8 C59.88 804.6 56.87 804.6 54.6 803.8 C52.33 803 50.32 801.42 48.7 799 C47.08 796.58 45.7 792.38 44.9 789.3 C44.1 786.22 43.75 782.93 43.9 780.5 C44.05 778.07 44.5 776.47 45.8 774.7 C47.1 772.93 50.08 771.43 51.7 769.9 C53.32 768.37 54.12 766.73 55.5 765.5 C56.88 764.27 58.25 762.42 60 762.5 C61.75 762.58 64.57 764.33 66 766 C67.43 767.67 67.03 770.62 68.6 772.5Z" fill="#fff" stroke="#c0c6bc" stroke-width="0.9"/>
<circle cx="47.2" cy="759.9" r="23.2" fill="#fff"/>
<path d="M20 762.3 L54 762.3 L56.6 766 L52 770.5 L46.5 776 L44 782 L43.9 788 L20 788Z" fill="#e6f3e1" stroke="#c0c6bc" stroke-width="0.8" clip-path="url(#tcaclip)"/>
<circle cx="47.2" cy="759.9" r="23.6" fill="none" stroke="#231f20" stroke-width="1.05"/>
<path d="M67.3 746.7 L60.2 743.6 L64.2 743.0 L65.6 739.0Z" fill="#231f20"/>
<path d="M155.3 617 L155.3 601.8" fill="none" stroke="#000" stroke-width="1.3" marker-end="url(#aht)"/>
<path d="M155.3 642.8 L155.3 630" fill="none" stroke="#000" stroke-width="1.3" marker-end="url(#aht)"/>
<path d="M108.4 684.4 C109.5 685.33 112.33 688.52 115 690 C117.67 691.48 121.23 692.7 124.4 693.3 C127.57 693.9 131.03 693.78 134 693.6 C136.97 693.42 139.7 693.38 142.2 692.2 C144.7 691.02 147.3 688.92 149 686.5 C150.7 684.08 151.57 681.12 152.4 677.7 C153.23 674.28 153.67 669.85 154 666 C154.33 662.15 154.33 656.5 154.4 654.6" fill="none" stroke="#231f20" stroke-width="1" marker-end="url(#ah)"/>
<path d="M90 735.6 C91 733.33 93.33 726.52 96 722 C98.67 717.48 101.63 712.73 106 708.5 C110.37 704.27 115.8 699.58 122.2 696.6 C128.6 693.62 137 691.82 144.4 690.6 C151.8 689.38 159.2 688.97 166.6 689.3 C174 689.63 183.6 691.53 188.8 692.6 C194 693.67 196.3 695.18 197.8 695.7" fill="none" stroke="#231f20" stroke-width="1" marker-end="url(#ahb)"/>
<path d="M28.7 742.4 C29.08 740.83 30.03 735.98 31 733 C31.97 730.02 33.27 727 34.5 724.5 C35.73 722 37.75 719.08 38.4 718" fill="none" stroke="#231f20" stroke-width="1" marker-end="url(#ah)"/>
<path d="M45.3 704.6 C46.25 702.83 48.55 697.18 51 694 C53.45 690.82 56.83 687.63 60 685.5 C63.17 683.37 66.85 682.18 70 681.2 C73.15 680.22 77.42 679.87 78.9 679.6" fill="none" stroke="#231f20" stroke-width="1" marker-end="url(#ah)"/>
<path d="M87.4 826.5 L88.7 747.8" fill="none" stroke="#333" stroke-width="0.95" stroke-dasharray="6 3.7" marker-end="url(#ah)"/>
<path d="M87.5 838.4 L87.5 883.4" fill="none" stroke="#231f20" stroke-width="1" marker-end="url(#ah)"/>
<path d="M197.6 697.3 C195.33 697.83 188.07 698.95 184 700.5 C179.93 702.05 176.28 704.27 173.2 706.6 C170.12 708.93 167.48 711.6 165.5 714.5 C163.52 717.4 162.28 720.12 161.3 724 C160.32 727.88 159.88 735.5 159.6 737.8" fill="none" stroke="#231f20" stroke-width="1" marker-end="url(#ah)"/>
<path d="M160.3 750.8 C160.4 752 160.55 755.57 160.9 758 C161.25 760.43 161.67 762.9 162.4 765.4 C163.13 767.9 164.08 770.57 165.3 773 C166.52 775.43 168.08 777.87 169.7 780 C171.32 782.13 173.1 784.08 175 785.8 C176.9 787.52 178.77 788.93 181.1 790.3 C183.43 791.67 186.12 793.02 189 794 C191.88 794.98 196.83 795.83 198.4 796.2" fill="none" stroke="#231f20" stroke-width="1" marker-end="url(#ah)"/>
<path d="M165.3 773 C165.62 774 166.87 776.83 167.2 779 C167.53 781.17 167.45 783.43 167.3 786 C167.15 788.57 166.47 793 166.3 794.4" fill="none" stroke="#231f20" stroke-width="1" marker-end="url(#ah)"/>
<path d="M248.9 795.5 C250.58 795.18 255.65 794.65 259 793.6 C262.35 792.55 266.08 791.05 269 789.2 C271.92 787.35 274.42 785.1 276.5 782.5 C278.58 779.9 279.85 777.02 281.5 773.6 C283.15 770.18 285.18 766.17 286.4 762 C287.62 757.83 288.57 753.6 288.8 748.6 C289.03 743.6 288.52 736.52 287.8 732 C287.08 727.48 285.88 724.62 284.5 721.5 C283.12 718.38 281.33 715.8 279.5 713.3 C277.67 710.8 275.58 708.42 273.5 706.5 C271.42 704.58 269.58 703.12 267 701.8 C264.42 700.48 260.95 699.3 258 698.6 C255.05 697.9 250.75 697.77 249.3 697.6" fill="none" stroke="#231f20" stroke-width="1" marker-end="url(#ah)"/>
<path d="M289 739.3 C289.1 738.08 289.28 734.25 289.6 732 C289.92 729.75 290.38 727.8 290.9 725.8 C291.42 723.8 292.02 721.73 292.7 720 C293.38 718.27 293.82 717 295 715.4 C296.18 713.8 299 711.23 299.8 710.4" fill="none" stroke="#ed1c24" stroke-width="1.1" marker-end="url(#ahr)"/>
<path d="M222.7 802.4 C221.92 803.33 219.73 806.2 218 808 C216.27 809.8 214.72 811.28 212.3 813.2 C209.88 815.12 206.62 817.58 203.5 819.5 C200.38 821.42 197.27 823.17 193.6 824.7 C189.93 826.23 185.67 827.6 181.5 828.7 C177.33 829.8 173.02 830.65 168.6 831.3 C164.18 831.95 159.5 832.32 155 832.6 C150.5 832.88 146.43 833.07 141.6 833 C136.77 832.93 131 832.58 126 832.2 C121 831.82 114 830.95 111.6 830.7" fill="none" stroke="#231f20" stroke-width="1.15" marker-end="url(#ahb)"/>
<path d="M132.7 833.5 C131.67 833.78 128.45 834.37 126.5 835.2 C124.55 836.03 122.72 837.03 121 838.5 C119.28 839.97 117 843.08 116.2 844" fill="none" stroke="#ed1c24" stroke-width="1.1" marker-end="url(#ahr)"/>
<path d="M150.6 805.3 C148.67 805.82 142.93 807.6 139 808.4 C135.07 809.2 131.33 809.57 127 810.1 C122.67 810.63 117.38 811.32 113 811.6 C108.62 811.88 104.87 812.07 100.7 811.8 C96.53 811.53 91.78 810.88 88 810 C84.22 809.12 80.97 807.83 78 806.5 C75.03 805.17 72.78 803.75 70.2 802 C67.62 800.25 64.7 798 62.5 796 C60.3 794 58.55 791.97 57 790 C55.45 788.03 53.83 785.17 53.2 784.2" fill="none" stroke="#231f20" stroke-width="1" marker-end="url(#ah)"/>
<text x="154.4" y="595.9"  font-size="9" text-anchor="middle" fill="#231f20" >Pyrimidine synthesis</text>
<text x="153.8" y="624.8"  font-size="9" text-anchor="middle" fill="#231f20" >Uridine</text>
<text x="153.6" y="651.1"  font-size="9" text-anchor="middle" fill="#231f20" >Orotate</text>
<text x="83.3" y="681.3"  font-size="9" fill="#231f20" >Aspartate</text>
<text x="23.8" y="713.4"  font-size="9" fill="#231f20" >Aspartate</text>
<text x="73.2" y="742.6"  font-size="9" fill="#231f20" >Citrulline</text>
<text x="27.5" y="762.9"  font-size="9" fill="#231f20" stroke="#231f20" stroke-width="0.15">TCA cycle</text>
<text x="72.3" y="832.6"  font-size="9" fill="#231f20" >Ornithine</text>
<text x="105.8" y="853.3"  font-size="9" fill="#231f20" >Urea</text>
<text x="63.5" y="893.6"  font-size="9" fill="#231f20" >Polyamines</text>
<text x="122" y="746.5"  font-size="9" fill="#231f20" >Argininosuccinate</text>
<text x="142.3" y="801.9"  font-size="9.9" fill="#231f20" >Fumarate</text>
<text x="202.9" y="699.6"  font-size="10" fill="#111" >Citrulline</text>
<text x="205.8" y="799.7"  font-size="10" fill="#111" >Arginine</text>
<text x="303" y="713.3"  font-size="10" fill="#111" >NO</text>
<text x="93.1" y="784.4"  font-size="8.3" fill="#29abe2" >OTC</text>
<text x="171.6" y="720.3"  font-size="8.3" fill="#29abe2" >ASS</text>
<text x="172.9" y="772.4"  font-size="8.3" fill="#29abe2" >ASL</text>
<text x="166.9" y="823.2"  font-size="8.3" fill="#29abe2" >ARG1</text>
<text x="263.9" y="744.6"  font-size="8.4" fill="#29abe2" >iNOS</text>
<text x="115.7" y="825.8"  font-size="8.45" font-weight="bold" fill="#1ea3dc" >ARG2</text>
<text  transform="translate(225.2 737.4) scale(1.2 1)" font-size="11.9" font-weight="bold" text-anchor="middle" fill="#231f20" stroke="#231f20" stroke-width="0.55">Urea</text>
<text  transform="translate(225.2 753.4) scale(1.2 1)" font-size="11.9" font-weight="bold" text-anchor="middle" fill="#231f20" stroke="#231f20" stroke-width="0.55">Cycle</text>
<rect x="236" y="597.5" width="7" height="6.4" fill="#ed1c24"/>
<text x="246.7" y="603.7"  font-size="7.8" fill="#111" >Control</text>
<rect x="236" y="606.25" width="7" height="6.4" fill="#0f75bc"/>
<text x="246.7" y="612.45"  font-size="7.8" fill="#111" >Tug1-KD</text>
<rect x="236" y="615" width="7" height="6.4" fill="#00a651"/>
<text x="246.7" y="621.2"  font-size="7.8" fill="#111" >Tug1-KD/Pgc1-OE</text>
<line x1="202.6" y1="681.8" x2="246.3" y2="681.8" stroke="#555" stroke-width="0.5" stroke-dasharray="2.2 1.4"/>
<line x1="211.45" y1="682.09" x2="211.45" y2="681.59" stroke="#111" stroke-width="0.8"/>
<line x1="208.85" y1="681.59" x2="214.05" y2="681.59" stroke="#000" stroke-width="1.7"/>
<rect x="207.1" y="682.09" width="8.7" height="2.51" fill="#ed1c24" stroke="#000" stroke-width="1"/>
<line x1="224.25" y1="657.33" x2="224.25" y2="656.03" stroke="#111" stroke-width="0.8"/>
<line x1="221.65" y1="656.03" x2="226.85" y2="656.03" stroke="#000" stroke-width="1.7"/>
<rect x="219.7" y="657.33" width="9.1" height="27.27" fill="#0f75bc" stroke="#000" stroke-width="1"/>
<line x1="237.45" y1="682.09" x2="237.45" y2="681.59" stroke="#111" stroke-width="0.8"/>
<line x1="234.85" y1="681.59" x2="240.05" y2="681.59" stroke="#000" stroke-width="1.7"/>
<rect x="233.1" y="682.09" width="8.7" height="2.51" fill="#00a651" stroke="#000" stroke-width="1"/>
<line x1="202.6" y1="681.8" x2="246.3" y2="681.8" stroke="#222" stroke-width="0.6" stroke-dasharray="2.2 1.4" opacity="0.55"/>
<line x1="202.6" y1="646.9" x2="202.6" y2="684.6" stroke="#333" stroke-width="0.85"/>
<line x1="202.6" y1="684.6" x2="246.3" y2="684.6" stroke="#333" stroke-width="0.85"/>
<line x1="201.2" y1="684.6" x2="202.6" y2="684.6" stroke="#222" stroke-width="0.6"/>
<text x="200.6" y="686.2"  font-size="4.6" text-anchor="end" fill="#000" >0</text>
<line x1="201.2" y1="672.03" x2="202.6" y2="672.03" stroke="#222" stroke-width="0.6"/>
<text x="200.6" y="673.63"  font-size="4.6" text-anchor="end" fill="#000" >5</text>
<line x1="201.2" y1="659.47" x2="202.6" y2="659.47" stroke="#222" stroke-width="0.6"/>
<text x="200.6" y="661.07"  font-size="4.6" text-anchor="end" fill="#000" >10</text>
<line x1="201.2" y1="646.9" x2="202.6" y2="646.9" stroke="#222" stroke-width="0.6"/>
<text x="200.6" y="648.5"  font-size="4.6" text-anchor="end" fill="#000" >15</text>
<line x1="211.45" y1="684.6" x2="211.45" y2="685.9" stroke="#222" stroke-width="0.6"/>
<line x1="224.25" y1="684.6" x2="224.25" y2="685.9" stroke="#222" stroke-width="0.6"/>
<line x1="237.45" y1="684.6" x2="237.45" y2="685.9" stroke="#222" stroke-width="0.6"/>
<line x1="210" y1="650.4" x2="223" y2="650.4" stroke="#000" stroke-width="1.3"/>
<text x="216.5" y="650.5"  font-size="4.2" text-anchor="middle" fill="#222" >****</text>
<line x1="225" y1="650.4" x2="237.2" y2="650.4" stroke="#000" stroke-width="1.3"/>
<text x="231.1" y="650.5"  font-size="4.2" text-anchor="middle" fill="#222" >****</text>
<rect x="22.9" y="836.8" width="4.1" height="5.8" fill="#fff"/>
<line x1="22.5" y1="836.4" x2="66.6" y2="836.4" stroke="#555" stroke-width="0.5" stroke-dasharray="2.2 1.4"/>
<line x1="31.4" y1="836.67" x2="31.4" y2="836.17" stroke="#111" stroke-width="0.8"/>
<line x1="28.8" y1="836.17" x2="34" y2="836.17" stroke="#000" stroke-width="1.7"/>
<rect x="27" y="836.67" width="8.8" height="6.13" fill="#ed1c24" stroke="#000" stroke-width="1"/>
<line x1="44.4" y1="813.36" x2="44.4" y2="811.06" stroke="#111" stroke-width="0.8"/>
<line x1="41.8" y1="811.06" x2="47" y2="811.06" stroke="#000" stroke-width="1.7"/>
<rect x="39.9" y="813.36" width="9" height="29.44" fill="#0f75bc" stroke="#000" stroke-width="1"/>
<line x1="56.9" y1="831.45" x2="56.9" y2="830.85" stroke="#111" stroke-width="0.8"/>
<line x1="54.3" y1="830.85" x2="59.5" y2="830.85" stroke="#000" stroke-width="1.7"/>
<rect x="52.4" y="831.45" width="9" height="11.35" fill="#00a651" stroke="#000" stroke-width="1"/>
<line x1="22.5" y1="836.4" x2="66.6" y2="836.4" stroke="#222" stroke-width="0.6" stroke-dasharray="2.2 1.4" opacity="0.55"/>
<line x1="22.5" y1="806" x2="22.5" y2="842.8" stroke="#333" stroke-width="0.85"/>
<line x1="22.5" y1="842.8" x2="66.6" y2="842.8" stroke="#333" stroke-width="0.85"/>
<line x1="21.1" y1="842.8" x2="22.5" y2="842.8" stroke="#222" stroke-width="0.6"/>
<text x="20.5" y="844.4"  font-size="4.6" text-anchor="end" fill="#000" >0</text>
<line x1="21.1" y1="830.53" x2="22.5" y2="830.53" stroke="#222" stroke-width="0.6"/>
<text x="20.5" y="832.13"  font-size="4.6" text-anchor="end" fill="#000" >2</text>
<line x1="21.1" y1="818.27" x2="22.5" y2="818.27" stroke="#222" stroke-width="0.6"/>
<text x="20.5" y="819.87"  font-size="4.6" text-anchor="end" fill="#000" >4</text>
<line x1="21.1" y1="806" x2="22.5" y2="806" stroke="#222" stroke-width="0.6"/>
<text x="20.5" y="807.6"  font-size="4.6" text-anchor="end" fill="#000" >6</text>
<line x1="31.4" y1="842.8" x2="31.4" y2="844.1" stroke="#222" stroke-width="0.6"/>
<line x1="44.4" y1="842.8" x2="44.4" y2="844.1" stroke="#222" stroke-width="0.6"/>
<line x1="56.9" y1="842.8" x2="56.9" y2="844.1" stroke="#222" stroke-width="0.6"/>
<line x1="31.2" y1="807.2" x2="43.7" y2="807.2" stroke="#000" stroke-width="1.3"/>
<text x="37.45" y="807.3"  font-size="4.2" text-anchor="middle" fill="#222" >****</text>
<line x1="45.4" y1="807.2" x2="57.8" y2="807.2" stroke="#000" stroke-width="1.3"/>
<text x="51.6" y="807.3"  font-size="4.2" text-anchor="middle" fill="#222" >****</text>
</g>
<g id="panelEF">
<text x="352.3" y="593.6"  font-size="14.5" font-weight="bold" fill="#000" >E</text>
<text x="352" y="785"  font-size="14.5" font-weight="bold" fill="#000" >F</text>
<line x1="566.28" y1="611.7" x2="566.28" y2="710.4" stroke="#f52a2e" stroke-width="1.3" stroke-dasharray="1.7 2.3"/>
<rect x="541.5" y="617.3" width="137.23" height="13.3" rx="0.8" fill="#0562b8"/>
<rect x="538.3" y="623.45" width="3" height="1" fill="#222"/>
<text x="536.4" y="627.15"  font-size="11.9" text-anchor="end" fill="#0a0a0a" >Pyrimidine metabolism</text>
<rect x="541.5" y="635.8" width="95.3" height="13.3" rx="0.8" fill="#0562b8"/>
<rect x="538.3" y="641.95" width="3" height="1" fill="#222"/>
<text x="536.4" y="645.65"  font-size="11.9" text-anchor="end" fill="#0a0a0a" >Purine metabolism</text>
<rect x="541.5" y="654.3" width="32.02" height="13.2" rx="0.8" fill="#0562b8"/>
<rect x="538.3" y="660.4" width="3" height="1" fill="#222"/>
<text x="536.4" y="664.1"  font-size="11.9" text-anchor="end" fill="#0a0a0a" >Ascorbate and aldarate metabolism</text>
<rect x="541.5" y="672.7" width="25.35" height="13.2" rx="0.8" fill="#0562b8"/>
<rect x="538.3" y="678.8" width="3" height="1" fill="#222"/>
<text x="536.4" y="682.5"  font-size="11.9" text-anchor="end" fill="#0a0a0a" >Glutathione metabolism</text>
<rect x="541.5" y="691.1" width="23.06" height="13.2" rx="0.8" fill="#0562b8"/>
<rect x="538.3" y="697.2" width="3" height="1" fill="#222"/>
<text x="536.4" y="700.9"  font-size="11.9" text-anchor="end" fill="#0a0a0a" >Arginine biosynthesis</text>
<rect x="541" y="611.7" width="1" height="99.2" fill="#1c1c1c"/>
<rect x="541" y="710" width="153.48" height="1" fill="#1c1c1c"/>
<rect x="541" y="710.4" width="1" height="2.6" fill="#222"/>
<text x="541.5" y="720.9"  font-size="8.3" text-anchor="middle" fill="#111" >0</text>
<rect x="579.12" y="710.4" width="1" height="2.6" fill="#222"/>
<text x="579.62" y="720.9"  font-size="8.3" text-anchor="middle" fill="#111" >2</text>
<rect x="617.24" y="710.4" width="1" height="2.6" fill="#222"/>
<text x="617.74" y="720.9"  font-size="8.3" text-anchor="middle" fill="#111" >4</text>
<rect x="655.36" y="710.4" width="1" height="2.6" fill="#222"/>
<text x="655.86" y="720.9"  font-size="8.3" text-anchor="middle" fill="#111" >6</text>
<rect x="693.48" y="710.4" width="1" height="2.6" fill="#222"/>
<text x="693.98" y="720.9"  font-size="8.3" text-anchor="middle" fill="#111" >8</text>
<text x="626" y="734.6" text-anchor="middle" font-size="11.8" fill="#111">-log<tspan font-size="7" dy="2.6">10</tspan><tspan dy="-2.6">(p-value)</tspan></text>
<text x="554.6" y="598" text-anchor="middle" font-size="12" fill="#111">Tug1-KD <tspan font-style="italic">vs</tspan> Control</text>
<line x1="574.18" y1="777.9" x2="574.18" y2="876" stroke="#f52a2e" stroke-width="1.3" stroke-dasharray="1.7 2.3"/>
<rect x="541.2" y="783.5" width="138.52" height="13.1" rx="0.8" fill="#0562b8"/>
<rect x="538" y="789.55" width="3" height="1" fill="#222"/>
<text x="536.1" y="794.35"  font-size="11.9" text-anchor="end" fill="#0a0a0a" >Pyrimidine metabolism</text>
<rect x="541.2" y="801.9" width="90.82" height="13.1" rx="0.8" fill="#0562b8"/>
<rect x="538" y="807.95" width="3" height="1" fill="#222"/>
<text x="536.1" y="812.75"  font-size="11.9" text-anchor="end" fill="#0a0a0a" >Purine metabolism</text>
<rect x="541.2" y="820.3" width="56.58" height="13.1" rx="0.8" fill="#0562b8"/>
<rect x="538" y="826.35" width="3" height="1" fill="#222"/>
<text x="536.1" y="831.15"  font-size="11.9" text-anchor="end" fill="#0a0a0a" >Pentose phosphate pathway</text>
<rect x="541.2" y="838.7" width="49.98" height="13.1" rx="0.8" fill="#0562b8"/>
<rect x="538" y="844.75" width="3" height="1" fill="#222"/>
<text x="536.1" y="849.55"  font-size="11.9" text-anchor="end" fill="#0a0a0a" >Arginine biosynthesis</text>
<rect x="541.2" y="857.2" width="46.93" height="13.1" rx="0.8" fill="#0562b8"/>
<rect x="538" y="863.25" width="3" height="1" fill="#222"/>
<text x="536.1" y="868.05"  font-size="11.9" text-anchor="end" fill="#0a0a0a" >Alanine, aspartate and glutamate metabolism</text>
<rect x="541" y="777.9" width="1" height="98.6" fill="#1c1c1c"/>
<rect x="541" y="876" width="153.22" height="1" fill="#1c1c1c"/>
<rect x="540.7" y="876" width="1" height="2.6" fill="#222"/>
<text x="541.2" y="886.5"  font-size="8.3" text-anchor="middle" fill="#111" >0</text>
<rect x="591.44" y="876" width="1" height="2.6" fill="#222"/>
<text x="591.94" y="886.5"  font-size="8.3" text-anchor="middle" fill="#111" >2</text>
<rect x="642.18" y="876" width="1" height="2.6" fill="#222"/>
<text x="642.68" y="886.5"  font-size="8.3" text-anchor="middle" fill="#111" >4</text>
<rect x="692.92" y="876" width="1" height="2.6" fill="#222"/>
<text x="693.42" y="886.5"  font-size="8.3" text-anchor="middle" fill="#111" >6</text>
<text x="621.8" y="900.2" text-anchor="middle" font-size="11.8" fill="#111">-log<tspan font-size="7" dy="2.6">10</tspan><tspan dy="-2.6">(p-value)</tspan></text>
<text x="553" y="763.5" text-anchor="middle" font-size="12" fill="#111">Tug1-KD/Pgc1-OE <tspan font-style="italic">vs</tspan> Tug1-KD</text>
</g>
</svg>
</body>
</html>
